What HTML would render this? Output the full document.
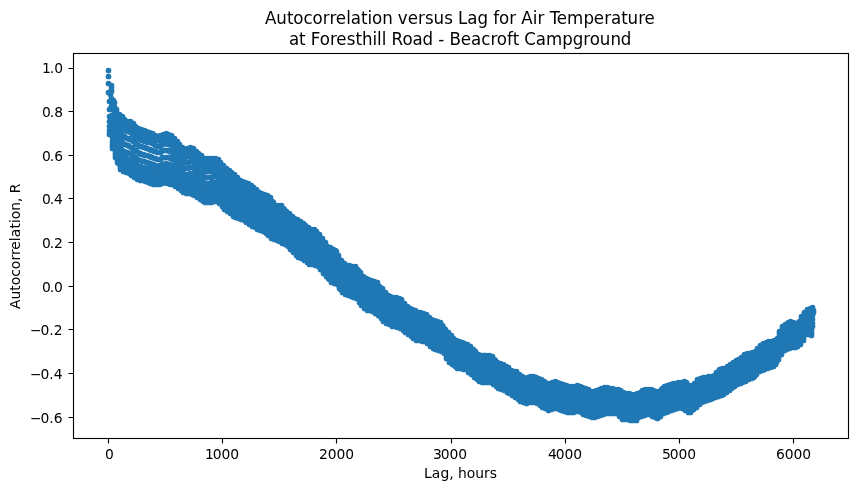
<!DOCTYPE html>
<html lang="en">
<head>
<meta charset="utf-8">
<title>Autocorrelation versus Lag for Air Temperature</title>
<style>
html,body{margin:0;padding:0;background:#fff}
svg{display:block}
text{font-family:"DejaVu Sans","Liberation Sans",sans-serif;fill:#000;white-space:pre}
.tk{font-size:13.889px}
.tt{font-size:16.667px}
.ax{stroke:#000;stroke-width:1.111;fill:none}
</style>
</head>
<body>
<svg width="857" height="491" viewBox="0 0 857 491" role="img" aria-label="Autocorrelation versus Lag for Air Temperature at Foresthill Road - Beacroft Campground">
<rect width="857" height="491" fill="#fff"/>
<path d="M108.5 70.5h.01M108.5 76.5h.01M108.5 83.5h.01M108.5 92.5h.01M109.5 101.5h.01M109.5 109.5h.01M109.5 116.5h.01M109.5 121.5h.01M109.5 126.5h.01M109.5 130.5h.01M109.5 133.5h.01M109.5 134.5h.01M110.5 134.5h.01M110.5 133.5h.01M110.5 131.5h.01M110.5 127.5h.01M110.5 122.5h.01M110.5 116.5h.01M110.5 108.5h.01M110.5 101.5h.01M110.5 94.5h.01M111.5 89.5h.01M111.5 85.5h.01M111.5 87.5h.01M111.5 91.5h.01M111.5 98.5h.01M111.5 106.5h.01M111.5 115.5h.01M111.5 123.5h.01M112.5 130.5h.01M112.5 137.5h.01M112.5 141.5h.01M112.5 145.5h.01M112.5 147.5h.01M112.5 148.5h.01M112.5 144.5h.01M113.5 141.5h.01M113.5 136.5h.01M113.5 130.5h.01M113.5 123.5h.01M113.5 116.5h.01M113.5 109.5h.01M113.5 104.5h.01M113.5 101.5h.01M113.5 100.5h.01M114.5 102.5h.01M114.5 106.5h.01M114.5 112.5h.01M114.5 119.5h.01M114.5 127.5h.01M114.5 135.5h.01M114.5 141.5h.01M114.5 147.5h.01M115.5 151.5h.01M115.5 154.5h.01M115.5 156.5h.01M115.5 157.5h.01M115.5 155.5h.01M115.5 153.5h.01M115.5 149.5h.01M115.5 144.5h.01M116.5 138.5h.01M116.5 132.5h.01M116.5 125.5h.01M116.5 118.5h.01M116.5 113.5h.01M116.5 110.5h.01M116.5 109.5h.01M116.5 114.5h.01M117.5 120.5h.01M117.5 127.5h.01M117.5 134.5h.01M117.5 141.5h.01M117.5 148.5h.01M117.5 153.5h.01M117.5 157.5h.01M117.5 160.5h.01M117.5 162.5h.01M118.5 163.5h.01M118.5 162.5h.01M118.5 161.5h.01M118.5 159.5h.01M118.5 155.5h.01M118.5 150.5h.01M118.5 144.5h.01M118.5 138.5h.01M119.5 130.5h.01M119.5 124.5h.01M119.5 118.5h.01M119.5 115.5h.01M119.5 114.5h.01M119.5 119.5h.01M119.5 125.5h.01M119.5 132.5h.01M120.5 140.5h.01M120.5 147.5h.01M120.5 154.5h.01M120.5 160.5h.01M120.5 164.5h.01M120.5 167.5h.01M120.5 169.5h.01M121.5 168.5h.01M121.5 165.5h.01M121.5 161.5h.01M121.5 155.5h.01M121.5 149.5h.01M121.5 142.5h.01M121.5 134.5h.01M121.5 127.5h.01M121.5 121.5h.01M122.5 117.5h.01M122.5 116.5h.01M122.5 118.5h.01M122.5 122.5h.01M122.5 128.5h.01M122.5 135.5h.01M122.5 142.5h.01M122.5 150.5h.01M123.5 156.5h.01M123.5 162.5h.01M123.5 166.5h.01M123.5 169.5h.01M123.5 170.5h.01M123.5 171.5h.01M124.5 162.5h.01M124.5 157.5h.01M124.5 151.5h.01M124.5 144.5h.01M124.5 136.5h.01M124.5 129.5h.01M124.5 124.5h.01M124.5 120.5h.01M124.5 119.5h.01M125.5 121.5h.01M125.5 124.5h.01M125.5 130.5h.01M125.5 137.5h.01M125.5 144.5h.01M125.5 152.5h.01M125.5 158.5h.01M125.5 163.5h.01M125.5 167.5h.01M126.5 170.5h.01M126.5 171.5h.01M126.5 172.5h.01M126.5 167.5h.01M126.5 163.5h.01M126.5 158.5h.01M127.5 152.5h.01M127.5 145.5h.01M127.5 138.5h.01M127.5 131.5h.01M127.5 126.5h.01M127.5 122.5h.01M127.5 121.5h.01M128.5 131.5h.01M128.5 138.5h.01M128.5 145.5h.01M128.5 153.5h.01M128.5 159.5h.01M128.5 164.5h.01M128.5 168.5h.01M128.5 171.5h.01M128.5 172.5h.01M129.5 173.5h.01M129.5 172.5h.01M129.5 171.5h.01M129.5 168.5h.01M129.5 164.5h.01M129.5 159.5h.01M129.5 153.5h.01M129.5 146.5h.01M129.5 139.5h.01M130.5 132.5h.01M130.5 126.5h.01M130.5 123.5h.01M130.5 121.5h.01M130.5 139.5h.01M131.5 147.5h.01M131.5 154.5h.01M131.5 160.5h.01M131.5 166.5h.01M131.5 170.5h.01M131.5 172.5h.01M131.5 174.5h.01M131.5 175.5h.01M132.5 173.5h.01M132.5 170.5h.01M132.5 166.5h.01M132.5 161.5h.01M132.5 155.5h.01M132.5 148.5h.01M132.5 140.5h.01M132.5 134.5h.01M132.5 128.5h.01M133.5 124.5h.01M133.5 123.5h.01M133.5 125.5h.01M133.5 128.5h.01M133.5 134.5h.01M133.5 141.5h.01M133.5 149.5h.01M133.5 156.5h.01M133.5 163.5h.01M134.5 168.5h.01M134.5 172.5h.01M134.5 175.5h.01M134.5 176.5h.01M134.5 177.5h.01M135.5 169.5h.01M135.5 164.5h.01M135.5 157.5h.01M135.5 150.5h.01M135.5 143.5h.01M135.5 136.5h.01M135.5 131.5h.01M135.5 127.5h.01M135.5 126.5h.01M136.5 128.5h.01M136.5 131.5h.01M136.5 137.5h.01M136.5 144.5h.01M136.5 151.5h.01M136.5 158.5h.01M136.5 165.5h.01M136.5 170.5h.01M136.5 174.5h.01M137.5 176.5h.01M137.5 178.5h.01M137.5 179.5h.01M137.5 177.5h.01M137.5 174.5h.01M137.5 170.5h.01M137.5 165.5h.01M137.5 159.5h.01M138.5 152.5h.01M138.5 145.5h.01M138.5 138.5h.01M138.5 133.5h.01M138.5 129.5h.01M138.5 128.5h.01M138.5 130.5h.01M139.5 139.5h.01M139.5 146.5h.01M139.5 153.5h.01M139.5 160.5h.01M139.5 166.5h.01M139.5 171.5h.01M139.5 175.5h.01M139.5 177.5h.01M139.5 179.5h.01M140.5 180.5h.01M140.5 179.5h.01M140.5 178.5h.01M140.5 175.5h.01M140.5 171.5h.01M140.5 166.5h.01M140.5 160.5h.01M140.5 153.5h.01M140.5 146.5h.01M141.5 139.5h.01M141.5 134.5h.01M141.5 130.5h.01M141.5 129.5h.01M141.5 131.5h.01M141.5 140.5h.01M141.5 146.5h.01M141.5 154.5h.01M142.5 161.5h.01M142.5 167.5h.01M142.5 172.5h.01M142.5 176.5h.01M142.5 178.5h.01M142.5 180.5h.01M143.5 178.5h.01M143.5 176.5h.01M143.5 172.5h.01M143.5 167.5h.01M143.5 161.5h.01M143.5 154.5h.01M143.5 147.5h.01M143.5 140.5h.01M143.5 135.5h.01M144.5 131.5h.01M144.5 130.5h.01M144.5 135.5h.01M144.5 141.5h.01M144.5 147.5h.01M144.5 155.5h.01M144.5 161.5h.01M144.5 168.5h.01M145.5 173.5h.01M145.5 177.5h.01M145.5 179.5h.01M145.5 181.5h.01M146.5 168.5h.01M146.5 162.5h.01M146.5 155.5h.01M146.5 148.5h.01M146.5 141.5h.01M146.5 136.5h.01M146.5 132.5h.01M146.5 131.5h.01M147.5 136.5h.01M147.5 142.5h.01M147.5 148.5h.01M147.5 155.5h.01M147.5 162.5h.01M147.5 168.5h.01M147.5 174.5h.01M147.5 177.5h.01M148.5 180.5h.01M148.5 181.5h.01M148.5 182.5h.01M148.5 178.5h.01M148.5 174.5h.01M148.5 169.5h.01M148.5 163.5h.01M149.5 156.5h.01M149.5 149.5h.01M149.5 142.5h.01M149.5 137.5h.01M149.5 133.5h.01M149.5 132.5h.01M150.5 149.5h.01M150.5 156.5h.01M150.5 163.5h.01M150.5 169.5h.01M150.5 174.5h.01M150.5 178.5h.01M150.5 181.5h.01M150.5 182.5h.01M150.5 183.5h.01M151.5 182.5h.01M151.5 181.5h.01M151.5 178.5h.01M151.5 175.5h.01M151.5 170.5h.01M151.5 164.5h.01M151.5 157.5h.01M151.5 150.5h.01M152.5 143.5h.01M152.5 138.5h.01M152.5 134.5h.01M152.5 133.5h.01M152.5 150.5h.01M152.5 157.5h.01M153.5 164.5h.01M153.5 170.5h.01M153.5 175.5h.01M153.5 179.5h.01M153.5 182.5h.01M153.5 183.5h.01M153.5 184.5h.01M154.5 179.5h.01M154.5 176.5h.01M154.5 171.5h.01M154.5 165.5h.01M154.5 158.5h.01M154.5 151.5h.01M154.5 144.5h.01M154.5 139.5h.01M154.5 136.5h.01M155.5 135.5h.01M155.5 136.5h.01M155.5 139.5h.01M155.5 145.5h.01M155.5 151.5h.01M155.5 158.5h.01M155.5 165.5h.01M155.5 171.5h.01M156.5 176.5h.01M156.5 180.5h.01M156.5 182.5h.01M156.5 184.5h.01M156.5 183.5h.01M157.5 172.5h.01M157.5 166.5h.01M157.5 159.5h.01M157.5 152.5h.01M157.5 146.5h.01M157.5 140.5h.01M157.5 137.5h.01M157.5 136.5h.01M158.5 140.5h.01M158.5 146.5h.01M158.5 152.5h.01M158.5 159.5h.01M158.5 166.5h.01M158.5 172.5h.01M158.5 176.5h.01M158.5 180.5h.01M158.5 182.5h.01M159.5 184.5h.01M159.5 182.5h.01M159.5 180.5h.01M159.5 176.5h.01M159.5 171.5h.01M159.5 165.5h.01M160.5 159.5h.01M160.5 152.5h.01M160.5 145.5h.01M160.5 140.5h.01M160.5 136.5h.01M160.5 135.5h.01M161.5 151.5h.01M161.5 158.5h.01M161.5 165.5h.01M161.5 171.5h.01M161.5 175.5h.01M161.5 179.5h.01M161.5 181.5h.01M161.5 183.5h.01M162.5 183.5h.01M162.5 181.5h.01M162.5 179.5h.01M162.5 175.5h.01M162.5 170.5h.01M162.5 164.5h.01M162.5 157.5h.01M162.5 150.5h.01M162.5 144.5h.01M163.5 139.5h.01M163.5 135.5h.01M163.5 134.5h.01M163.5 138.5h.01M163.5 144.5h.01M163.5 150.5h.01M163.5 157.5h.01M164.5 164.5h.01M164.5 170.5h.01M164.5 174.5h.01M164.5 178.5h.01M164.5 180.5h.01M164.5 182.5h.01M165.5 178.5h.01M165.5 174.5h.01M165.5 169.5h.01M165.5 163.5h.01M165.5 157.5h.01M165.5 150.5h.01M165.5 143.5h.01M165.5 138.5h.01M165.5 135.5h.01M166.5 133.5h.01M166.5 134.5h.01M166.5 138.5h.01M166.5 143.5h.01M166.5 150.5h.01M166.5 157.5h.01M166.5 163.5h.01M166.5 169.5h.01M166.5 174.5h.01M167.5 178.5h.01M167.5 181.5h.01M167.5 182.5h.01M167.5 183.5h.01M167.5 175.5h.01M168.5 170.5h.01M168.5 164.5h.01M168.5 157.5h.01M168.5 150.5h.01M168.5 144.5h.01M168.5 139.5h.01M168.5 135.5h.01M168.5 134.5h.01M169.5 139.5h.01M169.5 144.5h.01M169.5 151.5h.01M169.5 157.5h.01M169.5 164.5h.01M169.5 170.5h.01M169.5 175.5h.01M169.5 179.5h.01M169.5 182.5h.01M170.5 183.5h.01M170.5 184.5h.01M170.5 182.5h.01M170.5 179.5h.01M170.5 175.5h.01M170.5 171.5h.01M170.5 165.5h.01M170.5 158.5h.01M171.5 151.5h.01M171.5 145.5h.01M171.5 140.5h.01M171.5 137.5h.01M171.5 135.5h.01M172.5 152.5h.01M172.5 159.5h.01M172.5 165.5h.01M172.5 171.5h.01M172.5 176.5h.01M172.5 180.5h.01M172.5 182.5h.01M172.5 184.5h.01M173.5 184.5h.01M173.5 183.5h.01M173.5 180.5h.01M173.5 176.5h.01M173.5 172.5h.01M173.5 166.5h.01M173.5 159.5h.01M173.5 153.5h.01M173.5 147.5h.01M174.5 142.5h.01M174.5 139.5h.01M174.5 138.5h.01M174.5 143.5h.01M174.5 148.5h.01M174.5 154.5h.01M174.5 160.5h.01M174.5 167.5h.01M175.5 172.5h.01M175.5 177.5h.01M175.5 181.5h.01M175.5 183.5h.01M175.5 185.5h.01M175.5 186.5h.01M175.5 184.5h.01M176.5 181.5h.01M176.5 178.5h.01M176.5 173.5h.01M176.5 168.5h.01M176.5 161.5h.01M176.5 155.5h.01M176.5 150.5h.01M176.5 145.5h.01M176.5 142.5h.01M177.5 141.5h.01M177.5 143.5h.01M177.5 146.5h.01M177.5 150.5h.01M177.5 156.5h.01M177.5 162.5h.01M177.5 169.5h.01M177.5 174.5h.01M177.5 179.5h.01M178.5 183.5h.01M178.5 185.5h.01M178.5 187.5h.01M178.5 188.5h.01M178.5 186.5h.01M178.5 180.5h.01M178.5 175.5h.01M179.5 170.5h.01M179.5 164.5h.01M179.5 158.5h.01M179.5 152.5h.01M179.5 148.5h.01M179.5 145.5h.01M179.5 144.5h.01M180.5 153.5h.01M180.5 159.5h.01M180.5 165.5h.01M180.5 171.5h.01M180.5 177.5h.01M180.5 182.5h.01M180.5 185.5h.01M180.5 188.5h.01M181.5 190.5h.01M181.5 189.5h.01M181.5 186.5h.01M181.5 182.5h.01M181.5 178.5h.01M181.5 172.5h.01M181.5 166.5h.01M182.5 160.5h.01M182.5 155.5h.01M182.5 150.5h.01M182.5 148.5h.01M182.5 147.5h.01M182.5 151.5h.01M182.5 161.5h.01M183.5 167.5h.01M183.5 173.5h.01M183.5 179.5h.01M183.5 184.5h.01M183.5 187.5h.01M183.5 190.5h.01M183.5 192.5h.01M184.5 190.5h.01M184.5 188.5h.01M184.5 184.5h.01M184.5 179.5h.01M184.5 174.5h.01M184.5 168.5h.01M184.5 162.5h.01M184.5 157.5h.01M185.5 152.5h.01M185.5 150.5h.01M185.5 149.5h.01M185.5 157.5h.01M185.5 162.5h.01M185.5 168.5h.01M185.5 174.5h.01M186.5 179.5h.01M186.5 184.5h.01M186.5 188.5h.01M186.5 191.5h.01M186.5 192.5h.01M186.5 193.5h.01M187.5 184.5h.01M187.5 179.5h.01M187.5 174.5h.01M187.5 168.5h.01M187.5 162.5h.01M187.5 156.5h.01M187.5 152.5h.01M187.5 149.5h.01M187.5 148.5h.01M188.5 149.5h.01M188.5 152.5h.01M188.5 156.5h.01M188.5 162.5h.01M188.5 167.5h.01M188.5 174.5h.01M188.5 179.5h.01M188.5 184.5h.01M189.5 188.5h.01M189.5 191.5h.01M189.5 193.5h.01M189.5 184.5h.01M189.5 179.5h.01M190.5 173.5h.01M190.5 167.5h.01M190.5 161.5h.01M190.5 156.5h.01M190.5 151.5h.01M190.5 148.5h.01M190.5 147.5h.01M191.5 155.5h.01M191.5 161.5h.01M191.5 167.5h.01M191.5 173.5h.01M191.5 179.5h.01M191.5 184.5h.01M191.5 188.5h.01M191.5 191.5h.01M191.5 193.5h.01M192.5 194.5h.01M192.5 193.5h.01M192.5 192.5h.01M192.5 189.5h.01M192.5 184.5h.01M192.5 179.5h.01M192.5 174.5h.01M192.5 167.5h.01M193.5 161.5h.01M193.5 156.5h.01M193.5 152.5h.01M193.5 149.5h.01M193.5 148.5h.01M193.5 162.5h.01M194.5 168.5h.01M194.5 174.5h.01M194.5 180.5h.01M194.5 185.5h.01M194.5 190.5h.01M194.5 193.5h.01M194.5 194.5h.01M194.5 195.5h.01M195.5 193.5h.01M195.5 190.5h.01M195.5 186.5h.01M195.5 181.5h.01M195.5 175.5h.01M195.5 169.5h.01M195.5 164.5h.01M195.5 158.5h.01M195.5 154.5h.01M196.5 151.5h.01M196.5 152.5h.01M196.5 155.5h.01M196.5 159.5h.01M196.5 164.5h.01M196.5 170.5h.01M196.5 177.5h.01M197.5 182.5h.01M197.5 187.5h.01M197.5 191.5h.01M197.5 194.5h.01M197.5 196.5h.01M197.5 197.5h.01M197.5 195.5h.01M197.5 192.5h.01M198.5 188.5h.01M198.5 183.5h.01M198.5 178.5h.01M198.5 172.5h.01M198.5 166.5h.01M198.5 161.5h.01M198.5 157.5h.01M198.5 154.5h.01M198.5 153.5h.01M199.5 154.5h.01M199.5 157.5h.01M199.5 161.5h.01M199.5 167.5h.01M199.5 173.5h.01M199.5 179.5h.01M199.5 184.5h.01M199.5 189.5h.01M199.5 193.5h.01M200.5 196.5h.01M200.5 198.5h.01M200.5 199.5h.01M200.5 197.5h.01M200.5 194.5h.01M200.5 190.5h.01M200.5 185.5h.01M201.5 180.5h.01M201.5 174.5h.01M201.5 168.5h.01M201.5 163.5h.01M201.5 159.5h.01M201.5 156.5h.01M201.5 155.5h.01M202.5 163.5h.01M202.5 169.5h.01M202.5 175.5h.01M202.5 181.5h.01M202.5 186.5h.01M202.5 191.5h.01M202.5 195.5h.01M202.5 198.5h.01M202.5 200.5h.01M203.5 201.5h.01M203.5 200.5h.01M203.5 199.5h.01M203.5 196.5h.01M203.5 192.5h.01M203.5 187.5h.01M203.5 182.5h.01M203.5 176.5h.01M203.5 170.5h.01M204.5 165.5h.01M204.5 161.5h.01M204.5 158.5h.01M204.5 159.5h.01M204.5 166.5h.01M204.5 171.5h.01M205.5 177.5h.01M205.5 183.5h.01M205.5 188.5h.01M205.5 193.5h.01M205.5 197.5h.01M205.5 200.5h.01M205.5 202.5h.01M206.5 200.5h.01M206.5 197.5h.01M206.5 193.5h.01M206.5 189.5h.01M206.5 183.5h.01M206.5 177.5h.01M206.5 171.5h.01M206.5 166.5h.01M206.5 162.5h.01M207.5 159.5h.01M207.5 158.5h.01M207.5 162.5h.01M207.5 166.5h.01M207.5 171.5h.01M207.5 177.5h.01M207.5 183.5h.01M207.5 189.5h.01M208.5 193.5h.01M208.5 197.5h.01M208.5 200.5h.01M208.5 202.5h.01M209.5 193.5h.01M209.5 188.5h.01M209.5 183.5h.01M209.5 177.5h.01M209.5 171.5h.01M209.5 166.5h.01M209.5 162.5h.01M209.5 159.5h.01M209.5 158.5h.01M210.5 159.5h.01M210.5 162.5h.01M210.5 166.5h.01M210.5 171.5h.01M210.5 177.5h.01M210.5 183.5h.01M210.5 188.5h.01M210.5 193.5h.01M210.5 197.5h.01M211.5 199.5h.01M211.5 201.5h.01M211.5 202.5h.01M211.5 197.5h.01M211.5 193.5h.01M211.5 188.5h.01M211.5 182.5h.01M212.5 177.5h.01M212.5 171.5h.01M212.5 166.5h.01M212.5 162.5h.01M212.5 159.5h.01M212.5 158.5h.01M213.5 171.5h.01M213.5 176.5h.01M213.5 182.5h.01M213.5 188.5h.01M213.5 192.5h.01M213.5 196.5h.01M213.5 199.5h.01M213.5 200.5h.01M214.5 201.5h.01M214.5 200.5h.01M214.5 199.5h.01M214.5 196.5h.01M214.5 192.5h.01M214.5 187.5h.01M214.5 182.5h.01M214.5 176.5h.01M214.5 171.5h.01M215.5 166.5h.01M215.5 162.5h.01M215.5 159.5h.01M215.5 158.5h.01M215.5 171.5h.01M215.5 176.5h.01M216.5 182.5h.01M216.5 188.5h.01M216.5 192.5h.01M216.5 196.5h.01M216.5 199.5h.01M216.5 201.5h.01M217.5 197.5h.01M217.5 193.5h.01M217.5 188.5h.01M217.5 183.5h.01M217.5 177.5h.01M217.5 172.5h.01M217.5 167.5h.01M217.5 163.5h.01M218.5 160.5h.01M218.5 159.5h.01M218.5 163.5h.01M218.5 167.5h.01M218.5 172.5h.01M218.5 178.5h.01M218.5 184.5h.01M218.5 189.5h.01M219.5 194.5h.01M219.5 198.5h.01M219.5 200.5h.01M219.5 202.5h.01M219.5 203.5h.01M219.5 201.5h.01M219.5 195.5h.01M220.5 190.5h.01M220.5 185.5h.01M220.5 179.5h.01M220.5 174.5h.01M220.5 169.5h.01M220.5 165.5h.01M220.5 163.5h.01M220.5 162.5h.01M221.5 166.5h.01M221.5 170.5h.01M221.5 175.5h.01M221.5 181.5h.01M221.5 186.5h.01M221.5 192.5h.01M221.5 196.5h.01M221.5 200.5h.01M222.5 203.5h.01M222.5 205.5h.01M222.5 206.5h.01M222.5 204.5h.01M222.5 201.5h.01M222.5 197.5h.01M222.5 193.5h.01M222.5 188.5h.01M223.5 182.5h.01M223.5 177.5h.01M223.5 172.5h.01M223.5 168.5h.01M223.5 166.5h.01M223.5 165.5h.01M223.5 169.5h.01M223.5 173.5h.01M224.5 178.5h.01M224.5 184.5h.01M224.5 189.5h.01M224.5 195.5h.01M224.5 200.5h.01M224.5 204.5h.01M224.5 206.5h.01M224.5 208.5h.01M224.5 209.5h.01M225.5 208.5h.01M225.5 207.5h.01M225.5 204.5h.01M225.5 201.5h.01M225.5 196.5h.01M225.5 191.5h.01M225.5 185.5h.01M225.5 180.5h.01M226.5 175.5h.01M226.5 171.5h.01M226.5 169.5h.01M226.5 168.5h.01M226.5 172.5h.01M226.5 176.5h.01M226.5 181.5h.01M226.5 186.5h.01M227.5 192.5h.01M227.5 197.5h.01M227.5 202.5h.01M227.5 206.5h.01M227.5 208.5h.01M227.5 210.5h.01M227.5 211.5h.01M227.5 209.5h.01M228.5 206.5h.01M228.5 202.5h.01M228.5 198.5h.01M228.5 193.5h.01M228.5 188.5h.01M228.5 182.5h.01M228.5 177.5h.01M228.5 174.5h.01M228.5 171.5h.01M229.5 170.5h.01M229.5 171.5h.01M229.5 174.5h.01M229.5 178.5h.01M229.5 183.5h.01M229.5 188.5h.01M229.5 194.5h.01M229.5 199.5h.01M230.5 204.5h.01M230.5 208.5h.01M230.5 210.5h.01M230.5 212.5h.01M230.5 213.5h.01M230.5 211.5h.01M230.5 205.5h.01M231.5 200.5h.01M231.5 195.5h.01M231.5 189.5h.01M231.5 184.5h.01M231.5 179.5h.01M231.5 175.5h.01M231.5 172.5h.01M231.5 173.5h.01M232.5 175.5h.01M232.5 179.5h.01M232.5 185.5h.01M232.5 190.5h.01M232.5 196.5h.01M232.5 202.5h.01M232.5 207.5h.01M232.5 210.5h.01M232.5 213.5h.01M233.5 215.5h.01M233.5 216.5h.01M233.5 214.5h.01M233.5 211.5h.01M233.5 207.5h.01M233.5 203.5h.01M233.5 197.5h.01M234.5 192.5h.01M234.5 186.5h.01M234.5 181.5h.01M234.5 177.5h.01M234.5 175.5h.01M234.5 174.5h.01M234.5 178.5h.01M234.5 182.5h.01M235.5 187.5h.01M235.5 192.5h.01M235.5 198.5h.01M235.5 203.5h.01M235.5 208.5h.01M235.5 212.5h.01M235.5 215.5h.01M235.5 216.5h.01M235.5 217.5h.01M236.5 216.5h.01M236.5 215.5h.01M236.5 212.5h.01M236.5 208.5h.01M236.5 204.5h.01M236.5 199.5h.01M236.5 194.5h.01M236.5 189.5h.01M236.5 184.5h.01M237.5 180.5h.01M237.5 178.5h.01M237.5 177.5h.01M237.5 181.5h.01M237.5 185.5h.01M237.5 189.5h.01M237.5 195.5h.01M238.5 200.5h.01M238.5 205.5h.01M238.5 209.5h.01M238.5 213.5h.01M238.5 216.5h.01M238.5 217.5h.01M238.5 218.5h.01M239.5 213.5h.01M239.5 210.5h.01M239.5 206.5h.01M239.5 201.5h.01M239.5 196.5h.01M239.5 191.5h.01M239.5 187.5h.01M239.5 183.5h.01M239.5 181.5h.01M240.5 180.5h.01M240.5 181.5h.01M240.5 183.5h.01M240.5 187.5h.01M240.5 191.5h.01M240.5 197.5h.01M240.5 202.5h.01M240.5 207.5h.01M240.5 211.5h.01M241.5 214.5h.01M241.5 217.5h.01M241.5 218.5h.01M241.5 219.5h.01M241.5 211.5h.01M242.5 207.5h.01M242.5 202.5h.01M242.5 197.5h.01M242.5 192.5h.01M242.5 188.5h.01M242.5 184.5h.01M242.5 182.5h.01M242.5 181.5h.01M243.5 184.5h.01M243.5 188.5h.01M243.5 193.5h.01M243.5 198.5h.01M243.5 203.5h.01M243.5 208.5h.01M243.5 212.5h.01M243.5 215.5h.01M243.5 218.5h.01M244.5 220.5h.01M244.5 218.5h.01M244.5 216.5h.01M244.5 212.5h.01M244.5 208.5h.01M244.5 203.5h.01M244.5 198.5h.01M245.5 193.5h.01M245.5 189.5h.01M245.5 185.5h.01M245.5 183.5h.01M245.5 182.5h.01M245.5 194.5h.01M246.5 199.5h.01M246.5 204.5h.01M246.5 209.5h.01M246.5 213.5h.01M246.5 217.5h.01M246.5 220.5h.01M246.5 221.5h.01M246.5 222.5h.01M247.5 221.5h.01M247.5 220.5h.01M247.5 217.5h.01M247.5 214.5h.01M247.5 210.5h.01M247.5 205.5h.01M247.5 200.5h.01M247.5 195.5h.01M247.5 190.5h.01M248.5 186.5h.01M248.5 184.5h.01M248.5 183.5h.01M248.5 190.5h.01M248.5 195.5h.01M248.5 200.5h.01M248.5 206.5h.01M249.5 211.5h.01M249.5 215.5h.01M249.5 219.5h.01M249.5 221.5h.01M249.5 223.5h.01M249.5 224.5h.01M249.5 222.5h.01M250.5 216.5h.01M250.5 212.5h.01M250.5 207.5h.01M250.5 201.5h.01M250.5 196.5h.01M250.5 192.5h.01M250.5 188.5h.01M250.5 186.5h.01M251.5 185.5h.01M251.5 186.5h.01M251.5 188.5h.01M251.5 192.5h.01M251.5 197.5h.01M251.5 202.5h.01M251.5 208.5h.01M251.5 213.5h.01M251.5 217.5h.01M252.5 221.5h.01M252.5 223.5h.01M252.5 225.5h.01M252.5 226.5h.01M252.5 224.5h.01M252.5 218.5h.01M252.5 213.5h.01M253.5 209.5h.01M253.5 203.5h.01M253.5 198.5h.01M253.5 194.5h.01M253.5 190.5h.01M253.5 188.5h.01M253.5 187.5h.01M254.5 194.5h.01M254.5 199.5h.01M254.5 204.5h.01M254.5 210.5h.01M254.5 215.5h.01M254.5 219.5h.01M254.5 223.5h.01M254.5 225.5h.01M255.5 227.5h.01M255.5 226.5h.01M255.5 223.5h.01M255.5 220.5h.01M255.5 215.5h.01M255.5 211.5h.01M255.5 205.5h.01M256.5 200.5h.01M256.5 196.5h.01M256.5 192.5h.01M256.5 190.5h.01M256.5 189.5h.01M256.5 193.5h.01M256.5 201.5h.01M257.5 206.5h.01M257.5 212.5h.01M257.5 217.5h.01M257.5 221.5h.01M257.5 224.5h.01M257.5 227.5h.01M257.5 229.5h.01M258.5 227.5h.01M258.5 225.5h.01M258.5 221.5h.01M258.5 217.5h.01M258.5 213.5h.01M258.5 208.5h.01M258.5 203.5h.01M258.5 198.5h.01M259.5 195.5h.01M259.5 192.5h.01M259.5 193.5h.01M259.5 199.5h.01M259.5 203.5h.01M259.5 208.5h.01M259.5 213.5h.01M260.5 218.5h.01M260.5 222.5h.01M260.5 226.5h.01M260.5 228.5h.01M260.5 230.5h.01M261.5 223.5h.01M261.5 219.5h.01M261.5 214.5h.01M261.5 209.5h.01M261.5 204.5h.01M261.5 200.5h.01M261.5 196.5h.01M261.5 194.5h.01M261.5 193.5h.01M262.5 194.5h.01M262.5 196.5h.01M262.5 200.5h.01M262.5 204.5h.01M262.5 209.5h.01M262.5 214.5h.01M262.5 219.5h.01M262.5 223.5h.01M263.5 227.5h.01M263.5 229.5h.01M263.5 231.5h.01M263.5 224.5h.01M263.5 220.5h.01M264.5 215.5h.01M264.5 210.5h.01M264.5 205.5h.01M264.5 201.5h.01M264.5 197.5h.01M264.5 195.5h.01M264.5 194.5h.01M265.5 201.5h.01M265.5 205.5h.01M265.5 211.5h.01M265.5 216.5h.01M265.5 221.5h.01M265.5 225.5h.01M265.5 228.5h.01M265.5 231.5h.01M265.5 232.5h.01M266.5 233.5h.01M266.5 231.5h.01M266.5 229.5h.01M266.5 225.5h.01M266.5 221.5h.01M266.5 217.5h.01M266.5 211.5h.01M267.5 206.5h.01M267.5 202.5h.01M267.5 198.5h.01M267.5 196.5h.01M267.5 195.5h.01M267.5 199.5h.01M267.5 207.5h.01M268.5 212.5h.01M268.5 218.5h.01M268.5 223.5h.01M268.5 227.5h.01M268.5 231.5h.01M268.5 233.5h.01M268.5 235.5h.01M269.5 234.5h.01M269.5 231.5h.01M269.5 228.5h.01M269.5 223.5h.01M269.5 219.5h.01M269.5 213.5h.01M269.5 208.5h.01M269.5 204.5h.01M269.5 200.5h.01M270.5 198.5h.01M270.5 197.5h.01M270.5 200.5h.01M270.5 204.5h.01M270.5 209.5h.01M270.5 214.5h.01M270.5 220.5h.01M271.5 225.5h.01M271.5 229.5h.01M271.5 233.5h.01M271.5 235.5h.01M271.5 237.5h.01M271.5 238.5h.01M271.5 236.5h.01M272.5 230.5h.01M272.5 226.5h.01M272.5 221.5h.01M272.5 216.5h.01M272.5 211.5h.01M272.5 207.5h.01M272.5 203.5h.01M272.5 201.5h.01M273.5 202.5h.01M273.5 204.5h.01M273.5 208.5h.01M273.5 212.5h.01M273.5 217.5h.01M273.5 222.5h.01M273.5 227.5h.01M273.5 231.5h.01M273.5 235.5h.01M274.5 237.5h.01M274.5 238.5h.01M274.5 239.5h.01M274.5 235.5h.01M274.5 232.5h.01M274.5 228.5h.01M275.5 224.5h.01M275.5 219.5h.01M275.5 215.5h.01M275.5 211.5h.01M275.5 207.5h.01M275.5 205.5h.01M275.5 206.5h.01M275.5 208.5h.01M276.5 211.5h.01M276.5 215.5h.01M276.5 220.5h.01M276.5 224.5h.01M276.5 229.5h.01M276.5 233.5h.01M276.5 236.5h.01M276.5 238.5h.01M276.5 239.5h.01M277.5 240.5h.01M277.5 239.5h.01M277.5 238.5h.01M277.5 236.5h.01M277.5 233.5h.01M277.5 229.5h.01M277.5 225.5h.01M277.5 220.5h.01M277.5 216.5h.01M278.5 212.5h.01M278.5 208.5h.01M278.5 206.5h.01M278.5 205.5h.01M278.5 216.5h.01M278.5 220.5h.01M279.5 225.5h.01M279.5 229.5h.01M279.5 233.5h.01M279.5 236.5h.01M279.5 239.5h.01M279.5 240.5h.01M279.5 241.5h.01M280.5 239.5h.01M280.5 237.5h.01M280.5 234.5h.01M280.5 230.5h.01M280.5 225.5h.01M280.5 221.5h.01M280.5 216.5h.01M280.5 212.5h.01M280.5 208.5h.01M281.5 206.5h.01M281.5 205.5h.01M281.5 208.5h.01M281.5 212.5h.01M281.5 216.5h.01M281.5 221.5h.01M281.5 226.5h.01M281.5 231.5h.01M282.5 235.5h.01M282.5 238.5h.01M282.5 241.5h.01M282.5 242.5h.01M282.5 243.5h.01M282.5 239.5h.01M283.5 232.5h.01M283.5 227.5h.01M283.5 222.5h.01M283.5 218.5h.01M283.5 214.5h.01M283.5 210.5h.01M283.5 208.5h.01M284.5 209.5h.01M284.5 211.5h.01M284.5 214.5h.01M284.5 219.5h.01M284.5 223.5h.01M284.5 228.5h.01M284.5 233.5h.01M284.5 237.5h.01M284.5 240.5h.01M285.5 242.5h.01M285.5 244.5h.01M285.5 240.5h.01M285.5 237.5h.01M285.5 233.5h.01M285.5 229.5h.01M286.5 225.5h.01M286.5 220.5h.01M286.5 216.5h.01M286.5 213.5h.01M286.5 211.5h.01M286.5 214.5h.01M286.5 217.5h.01M287.5 221.5h.01M287.5 226.5h.01M287.5 230.5h.01M287.5 235.5h.01M287.5 238.5h.01M287.5 241.5h.01M287.5 244.5h.01M287.5 245.5h.01M288.5 246.5h.01M288.5 245.5h.01M288.5 244.5h.01M288.5 242.5h.01M288.5 239.5h.01M288.5 235.5h.01M288.5 231.5h.01M288.5 227.5h.01M288.5 223.5h.01M289.5 219.5h.01M289.5 216.5h.01M289.5 214.5h.01M289.5 213.5h.01M289.5 224.5h.01M289.5 228.5h.01M290.5 233.5h.01M290.5 237.5h.01M290.5 241.5h.01M290.5 244.5h.01M290.5 246.5h.01M290.5 248.5h.01M290.5 249.5h.01M290.5 247.5h.01M291.5 245.5h.01M291.5 242.5h.01M291.5 238.5h.01M291.5 234.5h.01M291.5 230.5h.01M291.5 225.5h.01M291.5 221.5h.01M291.5 218.5h.01M292.5 216.5h.01M292.5 219.5h.01M292.5 222.5h.01M292.5 226.5h.01M292.5 231.5h.01M292.5 236.5h.01M292.5 240.5h.01M293.5 244.5h.01M293.5 247.5h.01M293.5 250.5h.01M293.5 251.5h.01M293.5 252.5h.01M293.5 248.5h.01M293.5 245.5h.01M294.5 241.5h.01M294.5 237.5h.01M294.5 232.5h.01M294.5 228.5h.01M294.5 224.5h.01M294.5 220.5h.01M294.5 218.5h.01M295.5 221.5h.01M295.5 224.5h.01M295.5 229.5h.01M295.5 233.5h.01M295.5 238.5h.01M295.5 243.5h.01M295.5 247.5h.01M295.5 250.5h.01M296.5 253.5h.01M296.5 254.5h.01M296.5 255.5h.01M296.5 251.5h.01M296.5 248.5h.01M296.5 244.5h.01M296.5 239.5h.01M297.5 234.5h.01M297.5 230.5h.01M297.5 225.5h.01M297.5 222.5h.01M297.5 220.5h.01M297.5 219.5h.01M297.5 226.5h.01M298.5 230.5h.01M298.5 235.5h.01M298.5 240.5h.01M298.5 245.5h.01M298.5 249.5h.01M298.5 252.5h.01M298.5 255.5h.01M298.5 256.5h.01M298.5 257.5h.01M299.5 256.5h.01M299.5 255.5h.01M299.5 252.5h.01M299.5 249.5h.01M299.5 245.5h.01M299.5 241.5h.01M299.5 236.5h.01M299.5 231.5h.01M300.5 227.5h.01M300.5 224.5h.01M300.5 221.5h.01M300.5 222.5h.01M300.5 232.5h.01M300.5 237.5h.01M301.5 242.5h.01M301.5 246.5h.01M301.5 250.5h.01M301.5 253.5h.01M301.5 256.5h.01M301.5 257.5h.01M301.5 258.5h.01M302.5 254.5h.01M302.5 251.5h.01M302.5 247.5h.01M302.5 242.5h.01M302.5 238.5h.01M302.5 233.5h.01M302.5 229.5h.01M302.5 226.5h.01M302.5 224.5h.01M303.5 223.5h.01M303.5 224.5h.01M303.5 226.5h.01M303.5 229.5h.01M303.5 234.5h.01M303.5 239.5h.01M303.5 243.5h.01M303.5 248.5h.01M304.5 252.5h.01M304.5 255.5h.01M304.5 258.5h.01M304.5 259.5h.01M304.5 260.5h.01M304.5 256.5h.01M304.5 253.5h.01M305.5 249.5h.01M305.5 245.5h.01M305.5 240.5h.01M305.5 235.5h.01M305.5 231.5h.01M305.5 228.5h.01M305.5 226.5h.01M305.5 225.5h.01M306.5 228.5h.01M306.5 232.5h.01M306.5 236.5h.01M306.5 241.5h.01M306.5 246.5h.01M306.5 250.5h.01M306.5 254.5h.01M306.5 258.5h.01M306.5 260.5h.01M307.5 261.5h.01M307.5 262.5h.01M307.5 260.5h.01M307.5 258.5h.01M307.5 255.5h.01M307.5 251.5h.01M307.5 247.5h.01M308.5 242.5h.01M308.5 238.5h.01M308.5 233.5h.01M308.5 230.5h.01M308.5 228.5h.01M308.5 227.5h.01M308.5 234.5h.01M309.5 238.5h.01M309.5 243.5h.01M309.5 248.5h.01M309.5 252.5h.01M309.5 256.5h.01M309.5 259.5h.01M309.5 262.5h.01M309.5 263.5h.01M309.5 264.5h.01M310.5 263.5h.01M310.5 262.5h.01M310.5 260.5h.01M310.5 257.5h.01M310.5 253.5h.01M310.5 248.5h.01M310.5 244.5h.01M310.5 239.5h.01M310.5 235.5h.01M311.5 231.5h.01M311.5 229.5h.01M311.5 232.5h.01M311.5 235.5h.01M311.5 239.5h.01M311.5 244.5h.01M312.5 249.5h.01M312.5 253.5h.01M312.5 257.5h.01M312.5 260.5h.01M312.5 262.5h.01M312.5 264.5h.01M312.5 263.5h.01M313.5 260.5h.01M313.5 257.5h.01M313.5 253.5h.01M313.5 249.5h.01M313.5 244.5h.01M313.5 240.5h.01M313.5 236.5h.01M313.5 232.5h.01M313.5 230.5h.01M314.5 229.5h.01M314.5 230.5h.01M314.5 232.5h.01M314.5 236.5h.01M314.5 240.5h.01M314.5 245.5h.01M314.5 249.5h.01M314.5 254.5h.01M314.5 258.5h.01M315.5 261.5h.01M315.5 263.5h.01M315.5 264.5h.01M315.5 265.5h.01M315.5 258.5h.01M315.5 254.5h.01M316.5 250.5h.01M316.5 245.5h.01M316.5 241.5h.01M316.5 237.5h.01M316.5 233.5h.01M316.5 231.5h.01M317.5 234.5h.01M317.5 237.5h.01M317.5 241.5h.01M317.5 246.5h.01M317.5 250.5h.01M317.5 255.5h.01M317.5 259.5h.01M317.5 262.5h.01M317.5 264.5h.01M318.5 265.5h.01M318.5 266.5h.01M318.5 264.5h.01M318.5 262.5h.01M318.5 259.5h.01M318.5 256.5h.01M318.5 252.5h.01M318.5 247.5h.01M319.5 243.5h.01M319.5 239.5h.01M319.5 236.5h.01M319.5 234.5h.01M319.5 235.5h.01M319.5 237.5h.01M319.5 240.5h.01M319.5 244.5h.01M320.5 249.5h.01M320.5 254.5h.01M320.5 258.5h.01M320.5 262.5h.01M320.5 265.5h.01M320.5 267.5h.01M320.5 269.5h.01M321.5 269.5h.01M321.5 268.5h.01M321.5 266.5h.01M321.5 263.5h.01M321.5 259.5h.01M321.5 255.5h.01M321.5 251.5h.01M321.5 247.5h.01M321.5 243.5h.01M322.5 240.5h.01M322.5 238.5h.01M322.5 239.5h.01M322.5 241.5h.01M322.5 244.5h.01M322.5 248.5h.01M322.5 253.5h.01M322.5 257.5h.01M323.5 262.5h.01M323.5 266.5h.01M323.5 269.5h.01M323.5 271.5h.01M323.5 272.5h.01M323.5 273.5h.01M323.5 270.5h.01M324.5 267.5h.01M324.5 263.5h.01M324.5 259.5h.01M324.5 255.5h.01M324.5 251.5h.01M324.5 247.5h.01M324.5 244.5h.01M324.5 243.5h.01M325.5 242.5h.01M325.5 243.5h.01M325.5 245.5h.01M325.5 248.5h.01M325.5 252.5h.01M325.5 257.5h.01M325.5 261.5h.01M325.5 265.5h.01M325.5 269.5h.01M326.5 272.5h.01M326.5 274.5h.01M326.5 276.5h.01M326.5 275.5h.01M326.5 273.5h.01M326.5 270.5h.01M326.5 267.5h.01M327.5 263.5h.01M327.5 259.5h.01M327.5 255.5h.01M327.5 251.5h.01M327.5 248.5h.01M327.5 246.5h.01M328.5 252.5h.01M328.5 256.5h.01M328.5 260.5h.01M328.5 264.5h.01M328.5 269.5h.01M328.5 272.5h.01M328.5 275.5h.01M328.5 278.5h.01M329.5 279.5h.01M329.5 278.5h.01M329.5 276.5h.01M329.5 273.5h.01M329.5 270.5h.01M329.5 266.5h.01M329.5 261.5h.01M330.5 257.5h.01M330.5 253.5h.01M330.5 250.5h.01M330.5 248.5h.01M330.5 247.5h.01M330.5 254.5h.01M330.5 258.5h.01M331.5 262.5h.01M331.5 267.5h.01M331.5 271.5h.01M331.5 275.5h.01M331.5 278.5h.01M331.5 280.5h.01M331.5 281.5h.01M331.5 282.5h.01M332.5 280.5h.01M332.5 278.5h.01M332.5 275.5h.01M332.5 271.5h.01M332.5 267.5h.01M332.5 263.5h.01M332.5 258.5h.01M332.5 254.5h.01M333.5 251.5h.01M333.5 249.5h.01M333.5 252.5h.01M333.5 255.5h.01M333.5 259.5h.01M333.5 263.5h.01M333.5 268.5h.01M334.5 272.5h.01M334.5 276.5h.01M334.5 279.5h.01M334.5 281.5h.01M334.5 282.5h.01M334.5 283.5h.01M335.5 276.5h.01M335.5 272.5h.01M335.5 268.5h.01M335.5 264.5h.01M335.5 260.5h.01M335.5 256.5h.01M335.5 253.5h.01M335.5 251.5h.01M335.5 250.5h.01M336.5 251.5h.01M336.5 253.5h.01M336.5 257.5h.01M336.5 261.5h.01M336.5 265.5h.01M336.5 269.5h.01M336.5 274.5h.01M336.5 277.5h.01M337.5 280.5h.01M337.5 282.5h.01M337.5 284.5h.01M337.5 283.5h.01M337.5 281.5h.01M337.5 278.5h.01M337.5 275.5h.01M338.5 271.5h.01M338.5 267.5h.01M338.5 263.5h.01M338.5 260.5h.01M338.5 257.5h.01M338.5 255.5h.01M338.5 256.5h.01M338.5 258.5h.01M339.5 261.5h.01M339.5 265.5h.01M339.5 269.5h.01M339.5 274.5h.01M339.5 278.5h.01M339.5 281.5h.01M339.5 284.5h.01M339.5 287.5h.01M339.5 288.5h.01M340.5 289.5h.01M340.5 288.5h.01M340.5 287.5h.01M340.5 286.5h.01M340.5 283.5h.01M340.5 280.5h.01M340.5 276.5h.01M340.5 272.5h.01M341.5 268.5h.01M341.5 265.5h.01M341.5 262.5h.01M341.5 261.5h.01M341.5 260.5h.01M341.5 263.5h.01M341.5 266.5h.01M341.5 270.5h.01M342.5 274.5h.01M342.5 278.5h.01M342.5 282.5h.01M342.5 286.5h.01M342.5 288.5h.01M342.5 290.5h.01M342.5 292.5h.01M343.5 291.5h.01M343.5 289.5h.01M343.5 286.5h.01M343.5 283.5h.01M343.5 280.5h.01M343.5 276.5h.01M343.5 272.5h.01M343.5 268.5h.01M343.5 266.5h.01M344.5 264.5h.01M344.5 263.5h.01M344.5 266.5h.01M344.5 269.5h.01M344.5 272.5h.01M344.5 276.5h.01M344.5 280.5h.01M345.5 284.5h.01M345.5 287.5h.01M345.5 290.5h.01M345.5 292.5h.01M345.5 293.5h.01M345.5 294.5h.01M346.5 288.5h.01M346.5 285.5h.01M346.5 281.5h.01M346.5 277.5h.01M346.5 273.5h.01M346.5 270.5h.01M346.5 267.5h.01M346.5 265.5h.01M347.5 265.5h.01M347.5 267.5h.01M347.5 270.5h.01M347.5 273.5h.01M347.5 277.5h.01M347.5 281.5h.01M347.5 285.5h.01M347.5 288.5h.01M347.5 291.5h.01M348.5 293.5h.01M348.5 294.5h.01M348.5 295.5h.01M348.5 291.5h.01M348.5 289.5h.01M348.5 286.5h.01M348.5 282.5h.01M349.5 278.5h.01M349.5 274.5h.01M349.5 271.5h.01M349.5 268.5h.01M349.5 266.5h.01M349.5 265.5h.01M350.5 271.5h.01M350.5 274.5h.01M350.5 278.5h.01M350.5 282.5h.01M350.5 286.5h.01M350.5 289.5h.01M350.5 292.5h.01M350.5 294.5h.01M350.5 295.5h.01M351.5 296.5h.01M351.5 295.5h.01M351.5 294.5h.01M351.5 292.5h.01M351.5 290.5h.01M351.5 286.5h.01M351.5 283.5h.01M351.5 279.5h.01M351.5 275.5h.01M352.5 271.5h.01M352.5 268.5h.01M352.5 266.5h.01M352.5 275.5h.01M352.5 279.5h.01M353.5 283.5h.01M353.5 287.5h.01M353.5 290.5h.01M353.5 293.5h.01M353.5 295.5h.01M353.5 296.5h.01M353.5 297.5h.01M354.5 295.5h.01M354.5 293.5h.01M354.5 291.5h.01M354.5 287.5h.01M354.5 283.5h.01M354.5 279.5h.01M354.5 275.5h.01M354.5 272.5h.01M354.5 269.5h.01M355.5 267.5h.01M355.5 266.5h.01M355.5 269.5h.01M355.5 272.5h.01M355.5 276.5h.01M355.5 280.5h.01M355.5 284.5h.01M355.5 288.5h.01M356.5 292.5h.01M356.5 294.5h.01M356.5 297.5h.01M356.5 298.5h.01M356.5 295.5h.01M357.5 289.5h.01M357.5 285.5h.01M357.5 281.5h.01M357.5 277.5h.01M357.5 274.5h.01M357.5 271.5h.01M357.5 269.5h.01M358.5 270.5h.01M358.5 272.5h.01M358.5 275.5h.01M358.5 278.5h.01M358.5 283.5h.01M358.5 287.5h.01M358.5 291.5h.01M358.5 295.5h.01M358.5 297.5h.01M359.5 300.5h.01M359.5 301.5h.01M359.5 302.5h.01M359.5 298.5h.01M359.5 296.5h.01M359.5 293.5h.01M359.5 289.5h.01M360.5 285.5h.01M360.5 281.5h.01M360.5 277.5h.01M360.5 275.5h.01M360.5 273.5h.01M360.5 272.5h.01M360.5 278.5h.01M361.5 282.5h.01M361.5 286.5h.01M361.5 291.5h.01M361.5 295.5h.01M361.5 298.5h.01M361.5 301.5h.01M361.5 303.5h.01M361.5 305.5h.01M362.5 305.5h.01M362.5 304.5h.01M362.5 302.5h.01M362.5 300.5h.01M362.5 296.5h.01M362.5 293.5h.01M362.5 289.5h.01M362.5 285.5h.01M363.5 281.5h.01M363.5 278.5h.01M363.5 276.5h.01M363.5 277.5h.01M363.5 279.5h.01M363.5 282.5h.01M363.5 286.5h.01M363.5 290.5h.01M364.5 294.5h.01M364.5 298.5h.01M364.5 302.5h.01M364.5 304.5h.01M364.5 307.5h.01M364.5 308.5h.01M365.5 305.5h.01M365.5 302.5h.01M365.5 299.5h.01M365.5 295.5h.01M365.5 291.5h.01M365.5 287.5h.01M365.5 283.5h.01M365.5 280.5h.01M366.5 278.5h.01M366.5 279.5h.01M366.5 280.5h.01M366.5 284.5h.01M366.5 287.5h.01M366.5 291.5h.01M366.5 296.5h.01M366.5 300.5h.01M367.5 303.5h.01M367.5 306.5h.01M367.5 308.5h.01M367.5 309.5h.01M367.5 310.5h.01M368.5 300.5h.01M368.5 296.5h.01M368.5 292.5h.01M368.5 288.5h.01M368.5 284.5h.01M368.5 281.5h.01M368.5 279.5h.01M368.5 280.5h.01M369.5 282.5h.01M369.5 285.5h.01M369.5 288.5h.01M369.5 292.5h.01M369.5 297.5h.01M369.5 301.5h.01M369.5 304.5h.01M369.5 307.5h.01M370.5 309.5h.01M370.5 310.5h.01M370.5 307.5h.01M370.5 304.5h.01M370.5 301.5h.01M370.5 297.5h.01M371.5 293.5h.01M371.5 289.5h.01M371.5 285.5h.01M371.5 282.5h.01M371.5 280.5h.01M371.5 281.5h.01M372.5 289.5h.01M372.5 293.5h.01M372.5 297.5h.01M372.5 301.5h.01M372.5 305.5h.01M372.5 308.5h.01M372.5 310.5h.01M372.5 311.5h.01M373.5 311.5h.01M373.5 310.5h.01M373.5 308.5h.01M373.5 305.5h.01M373.5 302.5h.01M373.5 298.5h.01M373.5 294.5h.01M373.5 290.5h.01M374.5 286.5h.01M374.5 283.5h.01M374.5 281.5h.01M374.5 290.5h.01M374.5 294.5h.01M375.5 298.5h.01M375.5 302.5h.01M375.5 306.5h.01M375.5 309.5h.01M375.5 311.5h.01M375.5 312.5h.01M375.5 313.5h.01M376.5 309.5h.01M376.5 306.5h.01M376.5 303.5h.01M376.5 299.5h.01M376.5 295.5h.01M376.5 291.5h.01M376.5 288.5h.01M376.5 285.5h.01M376.5 283.5h.01M377.5 282.5h.01M377.5 283.5h.01M377.5 285.5h.01M377.5 288.5h.01M377.5 292.5h.01M377.5 296.5h.01M377.5 301.5h.01M377.5 305.5h.01M378.5 308.5h.01M378.5 311.5h.01M378.5 313.5h.01M378.5 315.5h.01M378.5 314.5h.01M378.5 312.5h.01M378.5 309.5h.01M379.5 306.5h.01M379.5 302.5h.01M379.5 298.5h.01M379.5 294.5h.01M379.5 291.5h.01M379.5 288.5h.01M379.5 286.5h.01M380.5 288.5h.01M380.5 291.5h.01M380.5 295.5h.01M380.5 299.5h.01M380.5 304.5h.01M380.5 308.5h.01M380.5 311.5h.01M380.5 314.5h.01M380.5 316.5h.01M381.5 318.5h.01M381.5 317.5h.01M381.5 315.5h.01M381.5 312.5h.01M381.5 309.5h.01M381.5 305.5h.01M381.5 301.5h.01M382.5 297.5h.01M382.5 293.5h.01M382.5 291.5h.01M382.5 289.5h.01M382.5 288.5h.01M382.5 294.5h.01M383.5 298.5h.01M383.5 302.5h.01M383.5 306.5h.01M383.5 310.5h.01M383.5 314.5h.01M383.5 317.5h.01M383.5 319.5h.01M383.5 320.5h.01M383.5 321.5h.01M384.5 320.5h.01M384.5 319.5h.01M384.5 317.5h.01M384.5 315.5h.01M384.5 312.5h.01M384.5 308.5h.01M384.5 304.5h.01M384.5 300.5h.01M384.5 297.5h.01M385.5 294.5h.01M385.5 293.5h.01M385.5 292.5h.01M385.5 295.5h.01M385.5 298.5h.01M385.5 301.5h.01M385.5 305.5h.01M385.5 309.5h.01M386.5 313.5h.01M386.5 316.5h.01M386.5 319.5h.01M386.5 321.5h.01M386.5 322.5h.01M386.5 323.5h.01M387.5 319.5h.01M387.5 317.5h.01M387.5 314.5h.01M387.5 310.5h.01M387.5 307.5h.01M387.5 303.5h.01M387.5 299.5h.01M387.5 297.5h.01M387.5 295.5h.01M388.5 295.5h.01M388.5 297.5h.01M388.5 300.5h.01M388.5 303.5h.01M388.5 307.5h.01M388.5 311.5h.01M388.5 315.5h.01M388.5 318.5h.01M389.5 321.5h.01M389.5 323.5h.01M389.5 324.5h.01M389.5 319.5h.01M389.5 315.5h.01M390.5 312.5h.01M390.5 308.5h.01M390.5 304.5h.01M390.5 301.5h.01M390.5 298.5h.01M390.5 296.5h.01M391.5 298.5h.01M391.5 301.5h.01M391.5 304.5h.01M391.5 308.5h.01M391.5 312.5h.01M391.5 316.5h.01M391.5 319.5h.01M391.5 322.5h.01M391.5 324.5h.01M392.5 325.5h.01M392.5 326.5h.01M392.5 324.5h.01M392.5 322.5h.01M392.5 320.5h.01M392.5 317.5h.01M392.5 313.5h.01M392.5 309.5h.01M393.5 305.5h.01M393.5 302.5h.01M393.5 299.5h.01M393.5 297.5h.01M394.5 309.5h.01M394.5 313.5h.01M394.5 317.5h.01M394.5 320.5h.01M394.5 323.5h.01M394.5 325.5h.01M394.5 326.5h.01M395.5 326.5h.01M395.5 325.5h.01M395.5 323.5h.01M395.5 320.5h.01M395.5 317.5h.01M395.5 314.5h.01M395.5 310.5h.01M395.5 306.5h.01M395.5 302.5h.01M396.5 299.5h.01M396.5 298.5h.01M396.5 297.5h.01M396.5 300.5h.01M396.5 302.5h.01M396.5 306.5h.01M396.5 310.5h.01M396.5 314.5h.01M397.5 318.5h.01M397.5 321.5h.01M397.5 324.5h.01M397.5 326.5h.01M397.5 327.5h.01M398.5 321.5h.01M398.5 318.5h.01M398.5 314.5h.01M398.5 310.5h.01M398.5 306.5h.01M398.5 303.5h.01M398.5 300.5h.01M398.5 298.5h.01M399.5 298.5h.01M399.5 300.5h.01M399.5 303.5h.01M399.5 307.5h.01M399.5 311.5h.01M399.5 315.5h.01M399.5 318.5h.01M399.5 322.5h.01M400.5 324.5h.01M400.5 326.5h.01M400.5 328.5h.01M400.5 327.5h.01M400.5 325.5h.01M400.5 322.5h.01M400.5 319.5h.01M401.5 315.5h.01M401.5 311.5h.01M401.5 308.5h.01M401.5 304.5h.01M401.5 301.5h.01M401.5 300.5h.01M401.5 299.5h.01M401.5 302.5h.01M402.5 305.5h.01M402.5 308.5h.01M402.5 312.5h.01M402.5 316.5h.01M402.5 320.5h.01M402.5 323.5h.01M402.5 326.5h.01M402.5 328.5h.01M403.5 329.5h.01M403.5 330.5h.01M403.5 328.5h.01M403.5 327.5h.01M403.5 324.5h.01M403.5 321.5h.01M403.5 318.5h.01M403.5 314.5h.01M404.5 310.5h.01M404.5 307.5h.01M404.5 305.5h.01M404.5 303.5h.01M404.5 308.5h.01M404.5 311.5h.01M405.5 315.5h.01M405.5 319.5h.01M405.5 323.5h.01M405.5 326.5h.01M405.5 328.5h.01M405.5 330.5h.01M405.5 331.5h.01M405.5 332.5h.01M406.5 331.5h.01M406.5 329.5h.01M406.5 327.5h.01M406.5 324.5h.01M406.5 320.5h.01M406.5 317.5h.01M406.5 313.5h.01M406.5 310.5h.01M407.5 308.5h.01M407.5 306.5h.01M407.5 307.5h.01M407.5 311.5h.01M407.5 314.5h.01M407.5 318.5h.01M407.5 322.5h.01M408.5 325.5h.01M408.5 328.5h.01M408.5 331.5h.01M408.5 332.5h.01M408.5 334.5h.01M408.5 333.5h.01M409.5 329.5h.01M409.5 326.5h.01M409.5 323.5h.01M409.5 319.5h.01M409.5 316.5h.01M409.5 312.5h.01M409.5 310.5h.01M409.5 308.5h.01M410.5 308.5h.01M410.5 310.5h.01M410.5 313.5h.01M410.5 316.5h.01M410.5 320.5h.01M410.5 324.5h.01M410.5 327.5h.01M410.5 330.5h.01M411.5 333.5h.01M411.5 335.5h.01M411.5 336.5h.01M411.5 331.5h.01M411.5 328.5h.01M412.5 324.5h.01M412.5 321.5h.01M412.5 317.5h.01M412.5 314.5h.01M412.5 311.5h.01M412.5 310.5h.01M412.5 309.5h.01M412.5 312.5h.01M413.5 314.5h.01M413.5 318.5h.01M413.5 322.5h.01M413.5 325.5h.01M413.5 329.5h.01M413.5 332.5h.01M413.5 335.5h.01M413.5 337.5h.01M413.5 338.5h.01M414.5 338.5h.01M414.5 337.5h.01M414.5 335.5h.01M414.5 333.5h.01M414.5 330.5h.01M414.5 326.5h.01M414.5 322.5h.01M414.5 319.5h.01M415.5 315.5h.01M415.5 313.5h.01M415.5 311.5h.01M415.5 310.5h.01M415.5 316.5h.01M415.5 319.5h.01M416.5 323.5h.01M416.5 327.5h.01M416.5 331.5h.01M416.5 334.5h.01M416.5 337.5h.01M416.5 338.5h.01M416.5 340.5h.01M417.5 339.5h.01M417.5 337.5h.01M417.5 334.5h.01M417.5 331.5h.01M417.5 328.5h.01M417.5 324.5h.01M417.5 320.5h.01M417.5 317.5h.01M417.5 314.5h.01M418.5 312.5h.01M418.5 314.5h.01M418.5 317.5h.01M418.5 320.5h.01M418.5 324.5h.01M418.5 328.5h.01M418.5 331.5h.01M419.5 335.5h.01M419.5 337.5h.01M419.5 339.5h.01M419.5 340.5h.01M420.5 335.5h.01M420.5 332.5h.01M420.5 328.5h.01M420.5 324.5h.01M420.5 321.5h.01M420.5 317.5h.01M420.5 315.5h.01M420.5 313.5h.01M420.5 312.5h.01M421.5 313.5h.01M421.5 315.5h.01M421.5 317.5h.01M421.5 321.5h.01M421.5 324.5h.01M421.5 328.5h.01M421.5 332.5h.01M421.5 335.5h.01M421.5 337.5h.01M422.5 339.5h.01M422.5 340.5h.01M422.5 341.5h.01M422.5 337.5h.01M422.5 335.5h.01M422.5 332.5h.01M422.5 328.5h.01M423.5 325.5h.01M423.5 321.5h.01M423.5 318.5h.01M423.5 315.5h.01M423.5 313.5h.01M424.5 318.5h.01M424.5 321.5h.01M424.5 325.5h.01M424.5 329.5h.01M424.5 332.5h.01M424.5 335.5h.01M424.5 338.5h.01M424.5 340.5h.01M424.5 341.5h.01M425.5 341.5h.01M425.5 340.5h.01M425.5 338.5h.01M425.5 336.5h.01M425.5 333.5h.01M425.5 329.5h.01M425.5 326.5h.01M425.5 322.5h.01M426.5 319.5h.01M426.5 316.5h.01M426.5 314.5h.01M426.5 315.5h.01M426.5 323.5h.01M426.5 326.5h.01M427.5 330.5h.01M427.5 334.5h.01M427.5 337.5h.01M427.5 340.5h.01M427.5 342.5h.01M427.5 343.5h.01M428.5 342.5h.01M428.5 340.5h.01M428.5 338.5h.01M428.5 335.5h.01M428.5 332.5h.01M428.5 328.5h.01M428.5 324.5h.01M428.5 321.5h.01M428.5 319.5h.01M429.5 317.5h.01M429.5 319.5h.01M429.5 322.5h.01M429.5 325.5h.01M429.5 329.5h.01M429.5 333.5h.01M429.5 337.5h.01M430.5 340.5h.01M430.5 342.5h.01M430.5 344.5h.01M430.5 345.5h.01M430.5 346.5h.01M430.5 343.5h.01M430.5 341.5h.01M431.5 338.5h.01M431.5 334.5h.01M431.5 331.5h.01M431.5 327.5h.01M431.5 324.5h.01M431.5 321.5h.01M431.5 320.5h.01M431.5 319.5h.01M432.5 320.5h.01M432.5 321.5h.01M432.5 324.5h.01M432.5 328.5h.01M432.5 331.5h.01M432.5 335.5h.01M432.5 339.5h.01M432.5 342.5h.01M432.5 344.5h.01M433.5 346.5h.01M433.5 347.5h.01M433.5 348.5h.01M433.5 345.5h.01M433.5 342.5h.01M433.5 339.5h.01M433.5 336.5h.01M434.5 332.5h.01M434.5 328.5h.01M434.5 325.5h.01M434.5 323.5h.01M434.5 321.5h.01M434.5 320.5h.01M435.5 329.5h.01M435.5 333.5h.01M435.5 336.5h.01M435.5 340.5h.01M435.5 343.5h.01M435.5 346.5h.01M435.5 348.5h.01M435.5 349.5h.01M436.5 349.5h.01M436.5 348.5h.01M436.5 346.5h.01M436.5 344.5h.01M436.5 340.5h.01M436.5 337.5h.01M436.5 333.5h.01M436.5 329.5h.01M437.5 326.5h.01M437.5 324.5h.01M437.5 322.5h.01M437.5 321.5h.01M437.5 330.5h.01M437.5 334.5h.01M438.5 337.5h.01M438.5 341.5h.01M438.5 344.5h.01M438.5 347.5h.01M438.5 349.5h.01M438.5 350.5h.01M439.5 347.5h.01M439.5 345.5h.01M439.5 342.5h.01M439.5 338.5h.01M439.5 334.5h.01M439.5 331.5h.01M439.5 327.5h.01M439.5 325.5h.01M440.5 323.5h.01M440.5 322.5h.01M440.5 325.5h.01M440.5 328.5h.01M440.5 331.5h.01M440.5 335.5h.01M440.5 339.5h.01M440.5 342.5h.01M441.5 345.5h.01M441.5 348.5h.01M441.5 350.5h.01M441.5 351.5h.01M441.5 346.5h.01M442.5 343.5h.01M442.5 339.5h.01M442.5 336.5h.01M442.5 332.5h.01M442.5 329.5h.01M442.5 327.5h.01M442.5 325.5h.01M442.5 326.5h.01M443.5 327.5h.01M443.5 330.5h.01M443.5 333.5h.01M443.5 337.5h.01M443.5 341.5h.01M443.5 344.5h.01M443.5 347.5h.01M443.5 349.5h.01M444.5 351.5h.01M444.5 352.5h.01M444.5 353.5h.01M444.5 350.5h.01M444.5 348.5h.01M444.5 345.5h.01M444.5 342.5h.01M445.5 339.5h.01M445.5 336.5h.01M445.5 333.5h.01M445.5 330.5h.01M445.5 329.5h.01M445.5 331.5h.01M445.5 334.5h.01M446.5 337.5h.01M446.5 341.5h.01M446.5 344.5h.01M446.5 348.5h.01M446.5 351.5h.01M446.5 354.5h.01M446.5 356.5h.01M446.5 357.5h.01M446.5 358.5h.01M447.5 357.5h.01M447.5 355.5h.01M447.5 353.5h.01M447.5 350.5h.01M447.5 347.5h.01M447.5 343.5h.01M447.5 340.5h.01M447.5 336.5h.01M448.5 334.5h.01M448.5 332.5h.01M448.5 333.5h.01M448.5 337.5h.01M448.5 341.5h.01M448.5 345.5h.01M449.5 348.5h.01M449.5 352.5h.01M449.5 355.5h.01M449.5 358.5h.01M449.5 360.5h.01M449.5 361.5h.01M449.5 362.5h.01M450.5 359.5h.01M450.5 356.5h.01M450.5 353.5h.01M450.5 350.5h.01M450.5 346.5h.01M450.5 343.5h.01M450.5 340.5h.01M450.5 337.5h.01M450.5 336.5h.01M451.5 335.5h.01M451.5 336.5h.01M451.5 338.5h.01M451.5 340.5h.01M451.5 344.5h.01M451.5 348.5h.01M451.5 351.5h.01M451.5 355.5h.01M451.5 358.5h.01M452.5 361.5h.01M452.5 363.5h.01M452.5 364.5h.01M452.5 359.5h.01M453.5 356.5h.01M453.5 353.5h.01M453.5 349.5h.01M453.5 346.5h.01M453.5 343.5h.01M453.5 340.5h.01M453.5 339.5h.01M453.5 338.5h.01M454.5 341.5h.01M454.5 343.5h.01M454.5 347.5h.01M454.5 350.5h.01M454.5 354.5h.01M454.5 358.5h.01M454.5 361.5h.01M454.5 363.5h.01M454.5 365.5h.01M455.5 366.5h.01M455.5 365.5h.01M455.5 364.5h.01M455.5 361.5h.01M455.5 358.5h.01M455.5 355.5h.01M455.5 351.5h.01M456.5 348.5h.01M456.5 345.5h.01M456.5 342.5h.01M456.5 341.5h.01M456.5 340.5h.01M457.5 348.5h.01M457.5 352.5h.01M457.5 356.5h.01M457.5 359.5h.01M457.5 362.5h.01M457.5 364.5h.01M457.5 366.5h.01M457.5 367.5h.01M457.5 368.5h.01M458.5 367.5h.01M458.5 366.5h.01M458.5 365.5h.01M458.5 362.5h.01M458.5 359.5h.01M458.5 356.5h.01M458.5 352.5h.01M458.5 349.5h.01M458.5 346.5h.01M459.5 343.5h.01M459.5 342.5h.01M459.5 341.5h.01M459.5 346.5h.01M459.5 349.5h.01M459.5 353.5h.01M459.5 356.5h.01M460.5 360.5h.01M460.5 363.5h.01M460.5 365.5h.01M460.5 367.5h.01M460.5 368.5h.01M461.5 365.5h.01M461.5 363.5h.01M461.5 360.5h.01M461.5 357.5h.01M461.5 353.5h.01M461.5 350.5h.01M461.5 346.5h.01M461.5 344.5h.01M461.5 342.5h.01M462.5 342.5h.01M462.5 344.5h.01M462.5 347.5h.01M462.5 350.5h.01M462.5 353.5h.01M462.5 357.5h.01M462.5 360.5h.01M462.5 363.5h.01M463.5 365.5h.01M463.5 367.5h.01M463.5 368.5h.01M463.5 369.5h.01M463.5 366.5h.01M463.5 363.5h.01M463.5 360.5h.01M464.5 357.5h.01M464.5 354.5h.01M464.5 350.5h.01M464.5 347.5h.01M464.5 345.5h.01M464.5 343.5h.01M465.5 345.5h.01M465.5 347.5h.01M465.5 351.5h.01M465.5 354.5h.01M465.5 358.5h.01M465.5 361.5h.01M465.5 364.5h.01M465.5 366.5h.01M465.5 368.5h.01M466.5 369.5h.01M466.5 368.5h.01M466.5 366.5h.01M466.5 364.5h.01M466.5 361.5h.01M466.5 358.5h.01M466.5 355.5h.01M467.5 352.5h.01M467.5 349.5h.01M467.5 346.5h.01M467.5 345.5h.01M467.5 344.5h.01M467.5 347.5h.01M468.5 356.5h.01M468.5 359.5h.01M468.5 363.5h.01M468.5 366.5h.01M468.5 368.5h.01M468.5 370.5h.01M468.5 371.5h.01M468.5 372.5h.01M469.5 371.5h.01M469.5 370.5h.01M469.5 369.5h.01M469.5 367.5h.01M469.5 364.5h.01M469.5 361.5h.01M469.5 357.5h.01M469.5 354.5h.01M469.5 351.5h.01M470.5 348.5h.01M470.5 347.5h.01M470.5 346.5h.01M470.5 349.5h.01M470.5 351.5h.01M470.5 355.5h.01M470.5 358.5h.01M470.5 362.5h.01M471.5 365.5h.01M471.5 368.5h.01M471.5 371.5h.01M471.5 373.5h.01M471.5 374.5h.01M471.5 372.5h.01M472.5 369.5h.01M472.5 367.5h.01M472.5 363.5h.01M472.5 360.5h.01M472.5 356.5h.01M472.5 353.5h.01M472.5 351.5h.01M472.5 349.5h.01M473.5 349.5h.01M473.5 350.5h.01M473.5 351.5h.01M473.5 354.5h.01M473.5 357.5h.01M473.5 361.5h.01M473.5 365.5h.01M473.5 368.5h.01M473.5 371.5h.01M474.5 374.5h.01M474.5 375.5h.01M474.5 377.5h.01M474.5 376.5h.01M474.5 372.5h.01M474.5 369.5h.01M475.5 366.5h.01M475.5 362.5h.01M475.5 359.5h.01M475.5 356.5h.01M475.5 353.5h.01M475.5 352.5h.01M475.5 351.5h.01M475.5 354.5h.01M476.5 356.5h.01M476.5 360.5h.01M476.5 363.5h.01M476.5 367.5h.01M476.5 370.5h.01M476.5 373.5h.01M476.5 376.5h.01M476.5 378.5h.01M477.5 379.5h.01M477.5 378.5h.01M477.5 376.5h.01M477.5 374.5h.01M477.5 371.5h.01M477.5 368.5h.01M477.5 364.5h.01M478.5 361.5h.01M478.5 358.5h.01M478.5 356.5h.01M478.5 354.5h.01M478.5 362.5h.01M479.5 365.5h.01M479.5 369.5h.01M479.5 372.5h.01M479.5 375.5h.01M479.5 378.5h.01M479.5 379.5h.01M479.5 381.5h.01M480.5 380.5h.01M480.5 378.5h.01M480.5 376.5h.01M480.5 373.5h.01M480.5 370.5h.01M480.5 366.5h.01M480.5 363.5h.01M480.5 359.5h.01M481.5 357.5h.01M481.5 355.5h.01M481.5 359.5h.01M481.5 363.5h.01M481.5 366.5h.01M481.5 370.5h.01M482.5 374.5h.01M482.5 377.5h.01M482.5 379.5h.01M482.5 381.5h.01M482.5 382.5h.01M483.5 377.5h.01M483.5 374.5h.01M483.5 370.5h.01M483.5 366.5h.01M483.5 363.5h.01M483.5 359.5h.01M483.5 357.5h.01M483.5 355.5h.01M484.5 355.5h.01M484.5 357.5h.01M484.5 359.5h.01M484.5 363.5h.01M484.5 366.5h.01M484.5 370.5h.01M484.5 374.5h.01M484.5 377.5h.01M484.5 379.5h.01M485.5 381.5h.01M485.5 382.5h.01M485.5 379.5h.01M485.5 377.5h.01M485.5 374.5h.01M486.5 370.5h.01M486.5 366.5h.01M486.5 363.5h.01M486.5 359.5h.01M486.5 357.5h.01M486.5 355.5h.01M487.5 359.5h.01M487.5 363.5h.01M487.5 366.5h.01M487.5 370.5h.01M487.5 373.5h.01M487.5 376.5h.01M487.5 379.5h.01M487.5 381.5h.01M487.5 382.5h.01M488.5 382.5h.01M488.5 381.5h.01M488.5 379.5h.01M488.5 376.5h.01M488.5 373.5h.01M488.5 370.5h.01M488.5 366.5h.01M488.5 363.5h.01M489.5 359.5h.01M489.5 357.5h.01M489.5 355.5h.01M489.5 363.5h.01M490.5 366.5h.01M490.5 370.5h.01M490.5 373.5h.01M490.5 376.5h.01M490.5 379.5h.01M490.5 381.5h.01M490.5 382.5h.01M491.5 381.5h.01M491.5 379.5h.01M491.5 377.5h.01M491.5 374.5h.01M491.5 370.5h.01M491.5 367.5h.01M491.5 363.5h.01M491.5 360.5h.01M491.5 358.5h.01M492.5 356.5h.01M492.5 358.5h.01M492.5 361.5h.01M492.5 364.5h.01M492.5 368.5h.01M492.5 371.5h.01M492.5 375.5h.01M493.5 378.5h.01M493.5 380.5h.01M493.5 382.5h.01M493.5 383.5h.01M493.5 384.5h.01M493.5 381.5h.01M494.5 379.5h.01M494.5 376.5h.01M494.5 373.5h.01M494.5 369.5h.01M494.5 366.5h.01M494.5 363.5h.01M494.5 361.5h.01M494.5 359.5h.01M495.5 360.5h.01M495.5 361.5h.01M495.5 364.5h.01M495.5 367.5h.01M495.5 371.5h.01M495.5 374.5h.01M495.5 378.5h.01M495.5 381.5h.01M495.5 383.5h.01M496.5 385.5h.01M496.5 386.5h.01M496.5 384.5h.01M496.5 381.5h.01M496.5 379.5h.01M496.5 376.5h.01M497.5 372.5h.01M497.5 369.5h.01M497.5 366.5h.01M497.5 364.5h.01M497.5 362.5h.01M498.5 367.5h.01M498.5 370.5h.01M498.5 373.5h.01M498.5 377.5h.01M498.5 380.5h.01M498.5 383.5h.01M498.5 385.5h.01M498.5 387.5h.01M498.5 388.5h.01M499.5 388.5h.01M499.5 387.5h.01M499.5 385.5h.01M499.5 383.5h.01M499.5 380.5h.01M499.5 377.5h.01M499.5 374.5h.01M499.5 370.5h.01M500.5 367.5h.01M500.5 365.5h.01M500.5 364.5h.01M500.5 363.5h.01M500.5 368.5h.01M500.5 371.5h.01M500.5 374.5h.01M501.5 378.5h.01M501.5 381.5h.01M501.5 384.5h.01M501.5 386.5h.01M501.5 388.5h.01M501.5 389.5h.01M502.5 388.5h.01M502.5 386.5h.01M502.5 384.5h.01M502.5 381.5h.01M502.5 378.5h.01M502.5 375.5h.01M502.5 372.5h.01M502.5 369.5h.01M502.5 366.5h.01M503.5 365.5h.01M503.5 364.5h.01M503.5 366.5h.01M503.5 369.5h.01M503.5 372.5h.01M503.5 375.5h.01M503.5 379.5h.01M503.5 382.5h.01M504.5 385.5h.01M504.5 387.5h.01M504.5 389.5h.01M504.5 390.5h.01M505.5 383.5h.01M505.5 379.5h.01M505.5 376.5h.01M505.5 373.5h.01M505.5 370.5h.01M505.5 367.5h.01M505.5 366.5h.01M506.5 366.5h.01M506.5 368.5h.01M506.5 370.5h.01M506.5 373.5h.01M506.5 377.5h.01M506.5 380.5h.01M506.5 383.5h.01M506.5 386.5h.01M506.5 388.5h.01M507.5 390.5h.01M507.5 391.5h.01M507.5 392.5h.01M507.5 389.5h.01M507.5 387.5h.01M507.5 384.5h.01M507.5 381.5h.01M508.5 378.5h.01M508.5 374.5h.01M508.5 372.5h.01M508.5 369.5h.01M508.5 368.5h.01M508.5 367.5h.01M508.5 370.5h.01M509.5 375.5h.01M509.5 379.5h.01M509.5 382.5h.01M509.5 385.5h.01M509.5 388.5h.01M509.5 390.5h.01M509.5 392.5h.01M509.5 393.5h.01M510.5 393.5h.01M510.5 392.5h.01M510.5 391.5h.01M510.5 389.5h.01M510.5 386.5h.01M510.5 383.5h.01M510.5 380.5h.01M510.5 377.5h.01M511.5 374.5h.01M511.5 372.5h.01M511.5 370.5h.01M511.5 371.5h.01M511.5 377.5h.01M511.5 381.5h.01M512.5 384.5h.01M512.5 387.5h.01M512.5 390.5h.01M512.5 392.5h.01M512.5 393.5h.01M512.5 394.5h.01M512.5 395.5h.01M513.5 392.5h.01M513.5 390.5h.01M513.5 388.5h.01M513.5 384.5h.01M513.5 381.5h.01M513.5 378.5h.01M513.5 375.5h.01M513.5 373.5h.01M514.5 371.5h.01M514.5 373.5h.01M514.5 375.5h.01M514.5 378.5h.01M514.5 382.5h.01M514.5 385.5h.01M514.5 388.5h.01M515.5 391.5h.01M515.5 393.5h.01M515.5 395.5h.01M515.5 396.5h.01M515.5 397.5h.01M515.5 394.5h.01M515.5 392.5h.01M516.5 389.5h.01M516.5 386.5h.01M516.5 382.5h.01M516.5 379.5h.01M516.5 376.5h.01M516.5 373.5h.01M516.5 372.5h.01M516.5 371.5h.01M517.5 374.5h.01M517.5 376.5h.01M517.5 379.5h.01M517.5 383.5h.01M517.5 387.5h.01M517.5 390.5h.01M517.5 393.5h.01M517.5 395.5h.01M517.5 397.5h.01M518.5 398.5h.01M518.5 399.5h.01M518.5 396.5h.01M518.5 394.5h.01M518.5 391.5h.01M518.5 388.5h.01M519.5 384.5h.01M519.5 381.5h.01M519.5 378.5h.01M519.5 376.5h.01M519.5 374.5h.01M519.5 379.5h.01M520.5 382.5h.01M520.5 385.5h.01M520.5 389.5h.01M520.5 392.5h.01M520.5 395.5h.01M520.5 398.5h.01M520.5 399.5h.01M520.5 400.5h.01M520.5 401.5h.01M521.5 400.5h.01M521.5 398.5h.01M521.5 396.5h.01M521.5 393.5h.01M521.5 390.5h.01M521.5 387.5h.01M521.5 384.5h.01M521.5 381.5h.01M522.5 378.5h.01M522.5 377.5h.01M522.5 376.5h.01M522.5 379.5h.01M522.5 381.5h.01M522.5 384.5h.01M522.5 388.5h.01M523.5 391.5h.01M523.5 394.5h.01M523.5 397.5h.01M523.5 399.5h.01M523.5 401.5h.01M523.5 402.5h.01M524.5 400.5h.01M524.5 397.5h.01M524.5 395.5h.01M524.5 392.5h.01M524.5 388.5h.01M524.5 385.5h.01M524.5 382.5h.01M524.5 380.5h.01M524.5 378.5h.01M525.5 378.5h.01M525.5 380.5h.01M525.5 382.5h.01M525.5 385.5h.01M525.5 388.5h.01M525.5 392.5h.01M525.5 395.5h.01M525.5 398.5h.01M526.5 400.5h.01M526.5 401.5h.01M526.5 402.5h.01M526.5 403.5h.01M526.5 397.5h.01M527.5 395.5h.01M527.5 391.5h.01M527.5 388.5h.01M527.5 385.5h.01M527.5 382.5h.01M527.5 379.5h.01M527.5 378.5h.01M527.5 377.5h.01M528.5 379.5h.01M528.5 381.5h.01M528.5 384.5h.01M528.5 388.5h.01M528.5 391.5h.01M528.5 394.5h.01M528.5 397.5h.01M528.5 399.5h.01M528.5 401.5h.01M529.5 402.5h.01M529.5 401.5h.01M529.5 399.5h.01M529.5 397.5h.01M529.5 394.5h.01M529.5 391.5h.01M529.5 387.5h.01M530.5 384.5h.01M530.5 381.5h.01M530.5 379.5h.01M530.5 377.5h.01M530.5 376.5h.01M530.5 378.5h.01M531.5 384.5h.01M531.5 387.5h.01M531.5 390.5h.01M531.5 394.5h.01M531.5 396.5h.01M531.5 399.5h.01M531.5 400.5h.01M531.5 401.5h.01M531.5 402.5h.01M532.5 401.5h.01M532.5 400.5h.01M532.5 399.5h.01M532.5 396.5h.01M532.5 393.5h.01M532.5 390.5h.01M532.5 387.5h.01M532.5 384.5h.01M532.5 380.5h.01M533.5 378.5h.01M533.5 376.5h.01M533.5 377.5h.01M533.5 380.5h.01M533.5 384.5h.01M533.5 387.5h.01M533.5 390.5h.01M534.5 394.5h.01M534.5 396.5h.01M534.5 399.5h.01M534.5 400.5h.01M534.5 401.5h.01M534.5 402.5h.01M535.5 399.5h.01M535.5 397.5h.01M535.5 394.5h.01M535.5 391.5h.01M535.5 387.5h.01M535.5 384.5h.01M535.5 381.5h.01M535.5 379.5h.01M535.5 377.5h.01M536.5 377.5h.01M536.5 379.5h.01M536.5 381.5h.01M536.5 385.5h.01M536.5 388.5h.01M536.5 391.5h.01M536.5 395.5h.01M536.5 398.5h.01M537.5 400.5h.01M537.5 402.5h.01M537.5 403.5h.01M537.5 398.5h.01M537.5 395.5h.01M538.5 392.5h.01M538.5 389.5h.01M538.5 385.5h.01M538.5 382.5h.01M538.5 380.5h.01M538.5 378.5h.01M538.5 379.5h.01M539.5 380.5h.01M539.5 383.5h.01M539.5 386.5h.01M539.5 389.5h.01M539.5 393.5h.01M539.5 396.5h.01M539.5 399.5h.01M539.5 402.5h.01M539.5 403.5h.01M540.5 405.5h.01M540.5 404.5h.01M540.5 402.5h.01M540.5 400.5h.01M540.5 397.5h.01M540.5 394.5h.01M540.5 390.5h.01M541.5 387.5h.01M541.5 384.5h.01M541.5 381.5h.01M541.5 380.5h.01M541.5 379.5h.01M541.5 382.5h.01M541.5 388.5h.01M542.5 391.5h.01M542.5 395.5h.01M542.5 398.5h.01M542.5 401.5h.01M542.5 403.5h.01M542.5 405.5h.01M542.5 406.5h.01M542.5 407.5h.01M543.5 406.5h.01M543.5 404.5h.01M543.5 402.5h.01M543.5 399.5h.01M543.5 396.5h.01M543.5 392.5h.01M543.5 389.5h.01M543.5 386.5h.01M544.5 383.5h.01M544.5 382.5h.01M544.5 381.5h.01M544.5 384.5h.01M544.5 386.5h.01M544.5 389.5h.01M544.5 393.5h.01M544.5 396.5h.01M545.5 400.5h.01M545.5 403.5h.01M545.5 405.5h.01M545.5 407.5h.01M545.5 408.5h.01M545.5 406.5h.01M546.5 403.5h.01M546.5 401.5h.01M546.5 397.5h.01M546.5 394.5h.01M546.5 390.5h.01M546.5 387.5h.01M546.5 385.5h.01M546.5 383.5h.01M547.5 383.5h.01M547.5 385.5h.01M547.5 388.5h.01M547.5 391.5h.01M547.5 394.5h.01M547.5 398.5h.01M547.5 401.5h.01M547.5 404.5h.01M548.5 406.5h.01M548.5 408.5h.01M548.5 409.5h.01M548.5 410.5h.01M548.5 407.5h.01M548.5 404.5h.01M548.5 401.5h.01M549.5 398.5h.01M549.5 394.5h.01M549.5 391.5h.01M549.5 387.5h.01M549.5 385.5h.01M549.5 383.5h.01M550.5 387.5h.01M550.5 390.5h.01M550.5 394.5h.01M550.5 398.5h.01M550.5 401.5h.01M550.5 404.5h.01M550.5 406.5h.01M550.5 408.5h.01M550.5 409.5h.01M551.5 409.5h.01M551.5 408.5h.01M551.5 406.5h.01M551.5 403.5h.01M551.5 401.5h.01M551.5 397.5h.01M551.5 393.5h.01M552.5 390.5h.01M552.5 387.5h.01M552.5 384.5h.01M552.5 382.5h.01M552.5 386.5h.01M553.5 393.5h.01M553.5 397.5h.01M553.5 400.5h.01M553.5 403.5h.01M553.5 405.5h.01M553.5 407.5h.01M553.5 408.5h.01M554.5 407.5h.01M554.5 405.5h.01M554.5 403.5h.01M554.5 400.5h.01M554.5 396.5h.01M554.5 393.5h.01M554.5 389.5h.01M554.5 386.5h.01M554.5 384.5h.01M555.5 382.5h.01M555.5 381.5h.01M555.5 384.5h.01M555.5 386.5h.01M555.5 389.5h.01M555.5 393.5h.01M555.5 396.5h.01M556.5 400.5h.01M556.5 403.5h.01M556.5 405.5h.01M556.5 407.5h.01M556.5 408.5h.01M557.5 403.5h.01M557.5 400.5h.01M557.5 397.5h.01M557.5 393.5h.01M557.5 390.5h.01M557.5 387.5h.01M557.5 384.5h.01M557.5 382.5h.01M558.5 383.5h.01M558.5 384.5h.01M558.5 387.5h.01M558.5 390.5h.01M558.5 393.5h.01M558.5 397.5h.01M558.5 400.5h.01M558.5 403.5h.01M558.5 406.5h.01M559.5 408.5h.01M559.5 409.5h.01M559.5 406.5h.01M559.5 404.5h.01M559.5 401.5h.01M560.5 398.5h.01M560.5 394.5h.01M560.5 390.5h.01M560.5 387.5h.01M560.5 385.5h.01M560.5 383.5h.01M561.5 388.5h.01M561.5 391.5h.01M561.5 394.5h.01M561.5 398.5h.01M561.5 401.5h.01M561.5 404.5h.01M561.5 407.5h.01M561.5 409.5h.01M561.5 410.5h.01M562.5 410.5h.01M562.5 409.5h.01M562.5 407.5h.01M562.5 405.5h.01M562.5 402.5h.01M562.5 398.5h.01M562.5 395.5h.01M562.5 391.5h.01M563.5 388.5h.01M563.5 386.5h.01M563.5 384.5h.01M563.5 389.5h.01M563.5 392.5h.01M564.5 395.5h.01M564.5 399.5h.01M564.5 402.5h.01M564.5 405.5h.01M564.5 408.5h.01M564.5 409.5h.01M564.5 411.5h.01M565.5 410.5h.01M565.5 408.5h.01M565.5 406.5h.01M565.5 403.5h.01M565.5 399.5h.01M565.5 396.5h.01M565.5 392.5h.01M565.5 389.5h.01M565.5 387.5h.01M566.5 385.5h.01M566.5 387.5h.01M566.5 390.5h.01M566.5 393.5h.01M566.5 396.5h.01M566.5 400.5h.01M566.5 403.5h.01M567.5 406.5h.01M567.5 409.5h.01M567.5 410.5h.01M567.5 411.5h.01M567.5 412.5h.01M568.5 406.5h.01M568.5 404.5h.01M568.5 400.5h.01M568.5 397.5h.01M568.5 393.5h.01M568.5 390.5h.01M568.5 388.5h.01M568.5 386.5h.01M569.5 386.5h.01M569.5 388.5h.01M569.5 390.5h.01M569.5 394.5h.01M569.5 397.5h.01M569.5 401.5h.01M569.5 404.5h.01M569.5 407.5h.01M569.5 409.5h.01M570.5 411.5h.01M570.5 412.5h.01M570.5 409.5h.01M570.5 407.5h.01M570.5 404.5h.01M570.5 401.5h.01M571.5 397.5h.01M571.5 394.5h.01M571.5 391.5h.01M571.5 388.5h.01M571.5 386.5h.01M572.5 391.5h.01M572.5 394.5h.01M572.5 397.5h.01M572.5 400.5h.01M572.5 404.5h.01M572.5 407.5h.01M572.5 409.5h.01M572.5 410.5h.01M572.5 411.5h.01M573.5 412.5h.01M573.5 411.5h.01M573.5 410.5h.01M573.5 409.5h.01M573.5 406.5h.01M573.5 404.5h.01M573.5 400.5h.01M573.5 397.5h.01M573.5 393.5h.01M574.5 390.5h.01M574.5 388.5h.01M574.5 386.5h.01M574.5 393.5h.01M574.5 397.5h.01M575.5 400.5h.01M575.5 403.5h.01M575.5 406.5h.01M575.5 408.5h.01M575.5 410.5h.01M575.5 411.5h.01M576.5 410.5h.01M576.5 408.5h.01M576.5 406.5h.01M576.5 403.5h.01M576.5 400.5h.01M576.5 396.5h.01M576.5 393.5h.01M576.5 390.5h.01M576.5 388.5h.01M577.5 386.5h.01M577.5 385.5h.01M577.5 388.5h.01M577.5 390.5h.01M577.5 393.5h.01M577.5 396.5h.01M577.5 400.5h.01M577.5 403.5h.01M578.5 406.5h.01M578.5 408.5h.01M578.5 410.5h.01M578.5 411.5h.01M579.5 403.5h.01M579.5 400.5h.01M579.5 397.5h.01M579.5 393.5h.01M579.5 390.5h.01M579.5 388.5h.01M579.5 386.5h.01M580.5 386.5h.01M580.5 388.5h.01M580.5 390.5h.01M580.5 394.5h.01M580.5 397.5h.01M580.5 401.5h.01M580.5 404.5h.01M580.5 407.5h.01M580.5 409.5h.01M581.5 411.5h.01M581.5 412.5h.01M581.5 410.5h.01M581.5 407.5h.01M581.5 404.5h.01M581.5 401.5h.01M582.5 398.5h.01M582.5 394.5h.01M582.5 391.5h.01M582.5 389.5h.01M582.5 387.5h.01M583.5 395.5h.01M583.5 398.5h.01M583.5 402.5h.01M583.5 405.5h.01M583.5 408.5h.01M583.5 410.5h.01M583.5 412.5h.01M583.5 413.5h.01M583.5 414.5h.01M584.5 413.5h.01M584.5 412.5h.01M584.5 411.5h.01M584.5 408.5h.01M584.5 406.5h.01M584.5 402.5h.01M584.5 399.5h.01M584.5 395.5h.01M585.5 392.5h.01M585.5 390.5h.01M585.5 388.5h.01M585.5 393.5h.01M585.5 396.5h.01M585.5 399.5h.01M586.5 403.5h.01M586.5 406.5h.01M586.5 409.5h.01M586.5 412.5h.01M586.5 413.5h.01M586.5 415.5h.01M586.5 414.5h.01M587.5 412.5h.01M587.5 410.5h.01M587.5 407.5h.01M587.5 404.5h.01M587.5 400.5h.01M587.5 397.5h.01M587.5 394.5h.01M587.5 391.5h.01M587.5 390.5h.01M588.5 389.5h.01M588.5 390.5h.01M588.5 391.5h.01M588.5 394.5h.01M588.5 397.5h.01M588.5 401.5h.01M588.5 404.5h.01M588.5 408.5h.01M589.5 411.5h.01M589.5 413.5h.01M589.5 415.5h.01M589.5 416.5h.01M590.5 408.5h.01M590.5 405.5h.01M590.5 401.5h.01M590.5 398.5h.01M590.5 395.5h.01M590.5 393.5h.01M590.5 391.5h.01M591.5 393.5h.01M591.5 395.5h.01M591.5 398.5h.01M591.5 402.5h.01M591.5 405.5h.01M591.5 409.5h.01M591.5 412.5h.01M591.5 414.5h.01M591.5 416.5h.01M592.5 417.5h.01M592.5 416.5h.01M592.5 414.5h.01M592.5 412.5h.01M592.5 409.5h.01M592.5 405.5h.01M593.5 402.5h.01M593.5 398.5h.01M593.5 395.5h.01M593.5 393.5h.01M593.5 391.5h.01M594.5 398.5h.01M594.5 402.5h.01M594.5 405.5h.01M594.5 408.5h.01M594.5 411.5h.01M594.5 414.5h.01M594.5 415.5h.01M594.5 416.5h.01M594.5 417.5h.01M595.5 416.5h.01M595.5 415.5h.01M595.5 413.5h.01M595.5 411.5h.01M595.5 408.5h.01M595.5 405.5h.01M595.5 401.5h.01M595.5 398.5h.01M595.5 395.5h.01M596.5 392.5h.01M596.5 390.5h.01M596.5 394.5h.01M596.5 397.5h.01M596.5 401.5h.01M597.5 404.5h.01M597.5 408.5h.01M597.5 410.5h.01M597.5 413.5h.01M597.5 414.5h.01M597.5 415.5h.01M597.5 416.5h.01M598.5 413.5h.01M598.5 410.5h.01M598.5 407.5h.01M598.5 404.5h.01M598.5 400.5h.01M598.5 397.5h.01M598.5 394.5h.01M598.5 391.5h.01M598.5 390.5h.01M599.5 389.5h.01M599.5 391.5h.01M599.5 393.5h.01M599.5 397.5h.01M599.5 400.5h.01M599.5 404.5h.01M599.5 407.5h.01M599.5 410.5h.01M600.5 412.5h.01M600.5 414.5h.01M600.5 415.5h.01M600.5 413.5h.01M600.5 409.5h.01M601.5 406.5h.01M601.5 403.5h.01M601.5 400.5h.01M601.5 396.5h.01M601.5 393.5h.01M601.5 390.5h.01M601.5 389.5h.01M601.5 388.5h.01M602.5 390.5h.01M602.5 393.5h.01M602.5 396.5h.01M602.5 399.5h.01M602.5 403.5h.01M602.5 406.5h.01M602.5 409.5h.01M602.5 411.5h.01M602.5 413.5h.01M603.5 414.5h.01M603.5 413.5h.01M603.5 411.5h.01M603.5 409.5h.01M603.5 406.5h.01M603.5 402.5h.01M603.5 399.5h.01M604.5 395.5h.01M604.5 392.5h.01M604.5 390.5h.01M604.5 388.5h.01M604.5 387.5h.01M605.5 395.5h.01M605.5 399.5h.01M605.5 402.5h.01M605.5 405.5h.01M605.5 408.5h.01M605.5 410.5h.01M605.5 412.5h.01M605.5 413.5h.01M606.5 413.5h.01M606.5 412.5h.01M606.5 410.5h.01M606.5 408.5h.01M606.5 405.5h.01M606.5 402.5h.01M606.5 398.5h.01M606.5 395.5h.01M606.5 392.5h.01M607.5 390.5h.01M607.5 388.5h.01M607.5 387.5h.01M607.5 392.5h.01M607.5 395.5h.01M607.5 399.5h.01M607.5 402.5h.01M608.5 405.5h.01M608.5 408.5h.01M608.5 410.5h.01M608.5 412.5h.01M608.5 413.5h.01M609.5 410.5h.01M609.5 408.5h.01M609.5 405.5h.01M609.5 402.5h.01M609.5 399.5h.01M609.5 395.5h.01M609.5 392.5h.01M609.5 390.5h.01M609.5 388.5h.01M610.5 388.5h.01M610.5 390.5h.01M610.5 392.5h.01M610.5 395.5h.01M610.5 399.5h.01M610.5 402.5h.01M610.5 405.5h.01M610.5 408.5h.01M611.5 410.5h.01M611.5 412.5h.01M611.5 413.5h.01M611.5 408.5h.01M611.5 405.5h.01M612.5 402.5h.01M612.5 399.5h.01M612.5 396.5h.01M612.5 393.5h.01M612.5 390.5h.01M612.5 389.5h.01M612.5 388.5h.01M613.5 390.5h.01M613.5 393.5h.01M613.5 396.5h.01M613.5 399.5h.01M613.5 402.5h.01M613.5 405.5h.01M613.5 408.5h.01M613.5 410.5h.01M613.5 412.5h.01M614.5 412.5h.01M614.5 413.5h.01M614.5 410.5h.01M614.5 408.5h.01M614.5 405.5h.01M614.5 402.5h.01M614.5 399.5h.01M615.5 396.5h.01M615.5 393.5h.01M615.5 391.5h.01M615.5 389.5h.01M616.5 399.5h.01M616.5 402.5h.01M616.5 405.5h.01M616.5 408.5h.01M616.5 410.5h.01M616.5 412.5h.01M616.5 413.5h.01M617.5 412.5h.01M617.5 410.5h.01M617.5 408.5h.01M617.5 406.5h.01M617.5 403.5h.01M617.5 400.5h.01M617.5 396.5h.01M617.5 394.5h.01M618.5 391.5h.01M618.5 390.5h.01M618.5 389.5h.01M618.5 394.5h.01M618.5 397.5h.01M618.5 400.5h.01M618.5 404.5h.01M619.5 407.5h.01M619.5 410.5h.01M619.5 412.5h.01M619.5 414.5h.01M619.5 415.5h.01M619.5 416.5h.01M619.5 413.5h.01M620.5 411.5h.01M620.5 408.5h.01M620.5 405.5h.01M620.5 402.5h.01M620.5 398.5h.01M620.5 395.5h.01M620.5 393.5h.01M620.5 391.5h.01M620.5 390.5h.01M621.5 391.5h.01M621.5 393.5h.01M621.5 395.5h.01M621.5 399.5h.01M621.5 402.5h.01M621.5 406.5h.01M621.5 410.5h.01M621.5 413.5h.01M622.5 415.5h.01M622.5 417.5h.01M622.5 418.5h.01M622.5 419.5h.01M622.5 413.5h.01M622.5 410.5h.01M623.5 407.5h.01M623.5 403.5h.01M623.5 399.5h.01M623.5 396.5h.01M623.5 394.5h.01M623.5 392.5h.01M624.5 396.5h.01M624.5 400.5h.01M624.5 403.5h.01M624.5 407.5h.01M624.5 410.5h.01M624.5 413.5h.01M624.5 416.5h.01M624.5 417.5h.01M624.5 418.5h.01M625.5 419.5h.01M625.5 418.5h.01M625.5 417.5h.01M625.5 416.5h.01M625.5 413.5h.01M625.5 410.5h.01M625.5 407.5h.01M625.5 404.5h.01M626.5 400.5h.01M626.5 397.5h.01M626.5 395.5h.01M626.5 393.5h.01M626.5 401.5h.01M627.5 404.5h.01M627.5 408.5h.01M627.5 411.5h.01M627.5 414.5h.01M627.5 416.5h.01M627.5 418.5h.01M627.5 419.5h.01M628.5 418.5h.01M628.5 416.5h.01M628.5 414.5h.01M628.5 411.5h.01M628.5 408.5h.01M628.5 405.5h.01M628.5 401.5h.01M628.5 398.5h.01M628.5 396.5h.01M629.5 394.5h.01M629.5 393.5h.01M629.5 396.5h.01M629.5 398.5h.01M629.5 401.5h.01M629.5 405.5h.01M629.5 408.5h.01M630.5 412.5h.01M630.5 415.5h.01M630.5 417.5h.01M630.5 419.5h.01M630.5 420.5h.01M631.5 415.5h.01M631.5 412.5h.01M631.5 409.5h.01M631.5 405.5h.01M631.5 402.5h.01M631.5 399.5h.01M631.5 396.5h.01M631.5 395.5h.01M631.5 394.5h.01M632.5 395.5h.01M632.5 396.5h.01M632.5 399.5h.01M632.5 402.5h.01M632.5 406.5h.01M632.5 409.5h.01M632.5 413.5h.01M632.5 416.5h.01M632.5 418.5h.01M633.5 420.5h.01M633.5 418.5h.01M633.5 415.5h.01M633.5 413.5h.01M634.5 409.5h.01M634.5 406.5h.01M634.5 402.5h.01M634.5 399.5h.01M634.5 396.5h.01M634.5 395.5h.01M634.5 394.5h.01M635.5 399.5h.01M635.5 402.5h.01M635.5 405.5h.01M635.5 409.5h.01M635.5 412.5h.01M635.5 415.5h.01M635.5 417.5h.01M635.5 418.5h.01M635.5 419.5h.01M636.5 420.5h.01M636.5 419.5h.01M636.5 418.5h.01M636.5 416.5h.01M636.5 414.5h.01M636.5 411.5h.01M636.5 408.5h.01M636.5 404.5h.01M636.5 401.5h.01M637.5 398.5h.01M637.5 395.5h.01M637.5 394.5h.01M637.5 393.5h.01M637.5 397.5h.01M637.5 400.5h.01M638.5 404.5h.01M638.5 407.5h.01M638.5 410.5h.01M638.5 413.5h.01M638.5 415.5h.01M638.5 416.5h.01M638.5 417.5h.01M639.5 416.5h.01M639.5 414.5h.01M639.5 412.5h.01M639.5 409.5h.01M639.5 406.5h.01M639.5 403.5h.01M639.5 399.5h.01M639.5 396.5h.01M639.5 394.5h.01M640.5 392.5h.01M640.5 394.5h.01M640.5 396.5h.01M640.5 399.5h.01M640.5 402.5h.01M640.5 405.5h.01M640.5 408.5h.01M641.5 411.5h.01M641.5 413.5h.01M641.5 415.5h.01M641.5 416.5h.01M642.5 411.5h.01M642.5 408.5h.01M642.5 405.5h.01M642.5 401.5h.01M642.5 398.5h.01M642.5 395.5h.01M642.5 393.5h.01M642.5 391.5h.01M642.5 390.5h.01M643.5 391.5h.01M643.5 392.5h.01M643.5 395.5h.01M643.5 398.5h.01M643.5 401.5h.01M643.5 404.5h.01M643.5 407.5h.01M643.5 410.5h.01M643.5 412.5h.01M644.5 414.5h.01M644.5 415.5h.01M644.5 412.5h.01M644.5 410.5h.01M644.5 407.5h.01M644.5 404.5h.01M645.5 400.5h.01M645.5 397.5h.01M645.5 394.5h.01M645.5 392.5h.01M645.5 390.5h.01M645.5 389.5h.01M645.5 391.5h.01M646.5 394.5h.01M646.5 397.5h.01M646.5 400.5h.01M646.5 403.5h.01M646.5 407.5h.01M646.5 409.5h.01M646.5 412.5h.01M646.5 413.5h.01M646.5 414.5h.01M647.5 414.5h.01M647.5 413.5h.01M647.5 411.5h.01M647.5 409.5h.01M647.5 406.5h.01M647.5 403.5h.01M647.5 400.5h.01M647.5 397.5h.01M648.5 394.5h.01M648.5 391.5h.01M648.5 390.5h.01M648.5 389.5h.01M648.5 397.5h.01M648.5 400.5h.01M649.5 403.5h.01M649.5 406.5h.01M649.5 409.5h.01M649.5 411.5h.01M649.5 413.5h.01M649.5 414.5h.01M650.5 412.5h.01M650.5 409.5h.01M650.5 407.5h.01M650.5 403.5h.01M650.5 400.5h.01M650.5 397.5h.01M650.5 394.5h.01M650.5 391.5h.01M651.5 390.5h.01M651.5 389.5h.01M651.5 391.5h.01M651.5 394.5h.01M651.5 397.5h.01M651.5 400.5h.01M651.5 404.5h.01M651.5 407.5h.01M652.5 410.5h.01M652.5 412.5h.01M652.5 414.5h.01M652.5 415.5h.01M652.5 416.5h.01M652.5 413.5h.01M652.5 411.5h.01M653.5 408.5h.01M653.5 404.5h.01M653.5 401.5h.01M653.5 398.5h.01M653.5 394.5h.01M653.5 392.5h.01M653.5 390.5h.01M653.5 391.5h.01M654.5 392.5h.01M654.5 395.5h.01M654.5 398.5h.01M654.5 402.5h.01M654.5 405.5h.01M654.5 409.5h.01M654.5 412.5h.01M654.5 414.5h.01M655.5 416.5h.01M655.5 417.5h.01M655.5 414.5h.01M655.5 412.5h.01M655.5 409.5h.01M655.5 406.5h.01M656.5 402.5h.01M656.5 399.5h.01M656.5 396.5h.01M656.5 393.5h.01M656.5 391.5h.01M657.5 399.5h.01M657.5 402.5h.01M657.5 406.5h.01M657.5 409.5h.01M657.5 412.5h.01M657.5 415.5h.01M657.5 416.5h.01M657.5 417.5h.01M657.5 418.5h.01M658.5 417.5h.01M658.5 416.5h.01M658.5 414.5h.01M658.5 412.5h.01M658.5 409.5h.01M658.5 406.5h.01M658.5 402.5h.01M658.5 399.5h.01M659.5 395.5h.01M659.5 393.5h.01M659.5 391.5h.01M659.5 398.5h.01M659.5 401.5h.01M660.5 405.5h.01M660.5 408.5h.01M660.5 411.5h.01M660.5 413.5h.01M660.5 414.5h.01M660.5 415.5h.01M660.5 416.5h.01M661.5 412.5h.01M661.5 410.5h.01M661.5 407.5h.01M661.5 403.5h.01M661.5 400.5h.01M661.5 396.5h.01M661.5 393.5h.01M661.5 391.5h.01M661.5 389.5h.01M662.5 388.5h.01M662.5 389.5h.01M662.5 390.5h.01M662.5 392.5h.01M662.5 395.5h.01M662.5 399.5h.01M662.5 402.5h.01M662.5 405.5h.01M663.5 408.5h.01M663.5 410.5h.01M663.5 412.5h.01M663.5 413.5h.01M663.5 407.5h.01M664.5 404.5h.01M664.5 401.5h.01M664.5 397.5h.01M664.5 394.5h.01M664.5 391.5h.01M664.5 388.5h.01M664.5 386.5h.01M665.5 388.5h.01M665.5 390.5h.01M665.5 393.5h.01M665.5 397.5h.01M665.5 400.5h.01M665.5 403.5h.01M665.5 406.5h.01M665.5 409.5h.01M665.5 410.5h.01M666.5 411.5h.01M666.5 412.5h.01M666.5 410.5h.01M666.5 408.5h.01M666.5 406.5h.01M666.5 403.5h.01M666.5 400.5h.01M667.5 396.5h.01M667.5 392.5h.01M667.5 389.5h.01M667.5 387.5h.01M667.5 385.5h.01M668.5 392.5h.01M668.5 396.5h.01M668.5 399.5h.01M668.5 402.5h.01M668.5 405.5h.01M668.5 408.5h.01M668.5 409.5h.01M668.5 410.5h.01M668.5 411.5h.01M669.5 410.5h.01M669.5 409.5h.01M669.5 407.5h.01M669.5 405.5h.01M669.5 402.5h.01M669.5 399.5h.01M669.5 395.5h.01M669.5 392.5h.01M669.5 389.5h.01M670.5 386.5h.01M670.5 384.5h.01M670.5 388.5h.01M670.5 391.5h.01M670.5 395.5h.01M671.5 398.5h.01M671.5 402.5h.01M671.5 405.5h.01M671.5 407.5h.01M671.5 408.5h.01M671.5 409.5h.01M671.5 410.5h.01M672.5 407.5h.01M672.5 404.5h.01M672.5 401.5h.01M672.5 398.5h.01M672.5 394.5h.01M672.5 391.5h.01M672.5 388.5h.01M672.5 385.5h.01M672.5 384.5h.01M673.5 383.5h.01M673.5 384.5h.01M673.5 385.5h.01M673.5 388.5h.01M673.5 391.5h.01M673.5 394.5h.01M673.5 398.5h.01M673.5 401.5h.01M673.5 404.5h.01M674.5 406.5h.01M674.5 408.5h.01M674.5 409.5h.01M674.5 407.5h.01M674.5 403.5h.01M675.5 401.5h.01M675.5 397.5h.01M675.5 394.5h.01M675.5 390.5h.01M675.5 387.5h.01M675.5 385.5h.01M675.5 383.5h.01M676.5 385.5h.01M676.5 387.5h.01M676.5 390.5h.01M676.5 393.5h.01M676.5 397.5h.01M676.5 400.5h.01M676.5 403.5h.01M676.5 405.5h.01M676.5 407.5h.01M677.5 408.5h.01M677.5 407.5h.01M677.5 405.5h.01M677.5 403.5h.01M677.5 400.5h.01M677.5 397.5h.01M677.5 393.5h.01M678.5 390.5h.01M678.5 387.5h.01M678.5 384.5h.01M678.5 383.5h.01M678.5 382.5h.01M679.5 390.5h.01M679.5 393.5h.01M679.5 396.5h.01M679.5 399.5h.01M679.5 402.5h.01M679.5 405.5h.01M679.5 406.5h.01M679.5 407.5h.01M680.5 407.5h.01M680.5 406.5h.01M680.5 405.5h.01M680.5 402.5h.01M680.5 399.5h.01M680.5 396.5h.01M680.5 393.5h.01M680.5 389.5h.01M680.5 386.5h.01M681.5 384.5h.01M681.5 382.5h.01M681.5 386.5h.01M681.5 389.5h.01M681.5 393.5h.01M681.5 397.5h.01M682.5 400.5h.01M682.5 403.5h.01M682.5 405.5h.01M682.5 407.5h.01M682.5 408.5h.01M683.5 406.5h.01M683.5 403.5h.01M683.5 400.5h.01M683.5 397.5h.01M683.5 393.5h.01M683.5 390.5h.01M683.5 386.5h.01M683.5 384.5h.01M683.5 382.5h.01M684.5 381.5h.01M684.5 382.5h.01M684.5 384.5h.01M684.5 386.5h.01M684.5 390.5h.01M684.5 393.5h.01M684.5 397.5h.01M684.5 401.5h.01M684.5 404.5h.01M685.5 407.5h.01M685.5 409.5h.01M685.5 410.5h.01M685.5 405.5h.01M685.5 401.5h.01M686.5 398.5h.01M686.5 394.5h.01M686.5 390.5h.01M686.5 387.5h.01M686.5 384.5h.01M686.5 383.5h.01M686.5 382.5h.01M686.5 385.5h.01M687.5 387.5h.01M687.5 391.5h.01M687.5 395.5h.01M687.5 399.5h.01M687.5 402.5h.01M687.5 406.5h.01M687.5 408.5h.01M687.5 410.5h.01M688.5 411.5h.01M688.5 412.5h.01M688.5 410.5h.01M688.5 409.5h.01M688.5 406.5h.01M688.5 403.5h.01M688.5 400.5h.01M688.5 396.5h.01M689.5 392.5h.01M689.5 389.5h.01M689.5 387.5h.01M689.5 385.5h.01M689.5 390.5h.01M689.5 393.5h.01M690.5 397.5h.01M690.5 400.5h.01M690.5 404.5h.01M690.5 406.5h.01M690.5 409.5h.01M690.5 410.5h.01M690.5 411.5h.01M690.5 412.5h.01M691.5 410.5h.01M691.5 408.5h.01M691.5 406.5h.01M691.5 403.5h.01M691.5 400.5h.01M691.5 397.5h.01M691.5 393.5h.01M691.5 390.5h.01M692.5 388.5h.01M692.5 386.5h.01M692.5 385.5h.01M692.5 387.5h.01M692.5 390.5h.01M692.5 393.5h.01M692.5 396.5h.01M692.5 399.5h.01M693.5 402.5h.01M693.5 405.5h.01M693.5 407.5h.01M693.5 408.5h.01M693.5 409.5h.01M693.5 406.5h.01M694.5 404.5h.01M694.5 401.5h.01M694.5 398.5h.01M694.5 394.5h.01M694.5 391.5h.01M694.5 387.5h.01M694.5 385.5h.01M694.5 383.5h.01M695.5 383.5h.01M695.5 384.5h.01M695.5 387.5h.01M695.5 390.5h.01M695.5 393.5h.01M695.5 396.5h.01M695.5 399.5h.01M695.5 402.5h.01M696.5 404.5h.01M696.5 405.5h.01M696.5 406.5h.01M696.5 407.5h.01M696.5 403.5h.01M696.5 401.5h.01M696.5 398.5h.01M697.5 395.5h.01M697.5 391.5h.01M697.5 387.5h.01M697.5 384.5h.01M697.5 382.5h.01M697.5 380.5h.01M697.5 379.5h.01M697.5 381.5h.01M698.5 384.5h.01M698.5 387.5h.01M698.5 390.5h.01M698.5 393.5h.01M698.5 396.5h.01M698.5 399.5h.01M698.5 401.5h.01M698.5 403.5h.01M698.5 404.5h.01M699.5 404.5h.01M699.5 402.5h.01M699.5 401.5h.01M699.5 398.5h.01M699.5 396.5h.01M699.5 392.5h.01M699.5 389.5h.01M700.5 386.5h.01M700.5 382.5h.01M700.5 380.5h.01M700.5 379.5h.01M700.5 378.5h.01M700.5 385.5h.01M701.5 388.5h.01M701.5 392.5h.01M701.5 395.5h.01M701.5 397.5h.01M701.5 400.5h.01M701.5 401.5h.01M701.5 402.5h.01M702.5 401.5h.01M702.5 399.5h.01M702.5 397.5h.01M702.5 394.5h.01M702.5 391.5h.01M702.5 388.5h.01M702.5 385.5h.01M702.5 382.5h.01M702.5 379.5h.01M703.5 378.5h.01M703.5 377.5h.01M703.5 379.5h.01M703.5 382.5h.01M703.5 384.5h.01M703.5 388.5h.01M703.5 391.5h.01M704.5 394.5h.01M704.5 396.5h.01M704.5 399.5h.01M704.5 400.5h.01M704.5 401.5h.01M704.5 398.5h.01M705.5 396.5h.01M705.5 393.5h.01M705.5 390.5h.01M705.5 387.5h.01M705.5 384.5h.01M705.5 381.5h.01M705.5 379.5h.01M705.5 377.5h.01M706.5 377.5h.01M706.5 379.5h.01M706.5 381.5h.01M706.5 384.5h.01M706.5 387.5h.01M706.5 390.5h.01M706.5 393.5h.01M706.5 395.5h.01M706.5 398.5h.01M707.5 399.5h.01M707.5 400.5h.01M707.5 397.5h.01M707.5 395.5h.01M707.5 393.5h.01M708.5 390.5h.01M708.5 386.5h.01M708.5 383.5h.01M708.5 380.5h.01M708.5 378.5h.01M708.5 377.5h.01M708.5 376.5h.01M709.5 380.5h.01M709.5 383.5h.01M709.5 386.5h.01M709.5 389.5h.01M709.5 392.5h.01M709.5 394.5h.01M709.5 397.5h.01M709.5 398.5h.01M709.5 399.5h.01M710.5 399.5h.01M710.5 398.5h.01M710.5 396.5h.01M710.5 394.5h.01M710.5 392.5h.01M710.5 389.5h.01M710.5 386.5h.01M710.5 382.5h.01M711.5 380.5h.01M711.5 378.5h.01M711.5 376.5h.01M711.5 377.5h.01M711.5 382.5h.01M712.5 385.5h.01M712.5 388.5h.01M712.5 391.5h.01M712.5 394.5h.01M712.5 396.5h.01M712.5 397.5h.01M712.5 398.5h.01M713.5 397.5h.01M713.5 395.5h.01M713.5 393.5h.01M713.5 391.5h.01M713.5 388.5h.01M713.5 385.5h.01M713.5 382.5h.01M713.5 379.5h.01M713.5 377.5h.01M714.5 375.5h.01M714.5 376.5h.01M714.5 378.5h.01M714.5 381.5h.01M714.5 384.5h.01M714.5 387.5h.01M714.5 390.5h.01M715.5 392.5h.01M715.5 394.5h.01M715.5 396.5h.01M715.5 397.5h.01M716.5 392.5h.01M716.5 389.5h.01M716.5 386.5h.01M716.5 383.5h.01M716.5 380.5h.01M716.5 376.5h.01M716.5 374.5h.01M716.5 372.5h.01M717.5 372.5h.01M717.5 373.5h.01M717.5 376.5h.01M717.5 379.5h.01M717.5 382.5h.01M717.5 385.5h.01M717.5 388.5h.01M717.5 391.5h.01M717.5 393.5h.01M718.5 395.5h.01M718.5 396.5h.01M718.5 393.5h.01M718.5 391.5h.01M718.5 388.5h.01M718.5 384.5h.01M719.5 381.5h.01M719.5 377.5h.01M719.5 374.5h.01M719.5 371.5h.01M719.5 369.5h.01M719.5 373.5h.01M720.5 377.5h.01M720.5 380.5h.01M720.5 384.5h.01M720.5 387.5h.01M720.5 390.5h.01M720.5 392.5h.01M720.5 394.5h.01M720.5 395.5h.01M721.5 395.5h.01M721.5 394.5h.01M721.5 392.5h.01M721.5 390.5h.01M721.5 387.5h.01M721.5 383.5h.01M721.5 380.5h.01M721.5 376.5h.01M722.5 373.5h.01M722.5 371.5h.01M722.5 369.5h.01M722.5 368.5h.01M722.5 376.5h.01M722.5 379.5h.01M723.5 383.5h.01M723.5 386.5h.01M723.5 389.5h.01M723.5 391.5h.01M723.5 393.5h.01M723.5 394.5h.01M724.5 391.5h.01M724.5 388.5h.01M724.5 386.5h.01M724.5 382.5h.01M724.5 379.5h.01M724.5 376.5h.01M724.5 372.5h.01M724.5 370.5h.01M725.5 368.5h.01M725.5 370.5h.01M725.5 372.5h.01M725.5 375.5h.01M725.5 378.5h.01M725.5 382.5h.01M725.5 385.5h.01M726.5 387.5h.01M726.5 390.5h.01M726.5 391.5h.01M726.5 392.5h.01M726.5 389.5h.01M727.5 384.5h.01M727.5 380.5h.01M727.5 377.5h.01M727.5 374.5h.01M727.5 370.5h.01M727.5 368.5h.01M727.5 366.5h.01M728.5 367.5h.01M728.5 370.5h.01M728.5 373.5h.01M728.5 376.5h.01M728.5 379.5h.01M728.5 382.5h.01M728.5 385.5h.01M728.5 387.5h.01M729.5 389.5h.01M729.5 390.5h.01M729.5 387.5h.01M729.5 384.5h.01M729.5 382.5h.01M729.5 378.5h.01M730.5 375.5h.01M730.5 371.5h.01M730.5 368.5h.01M730.5 366.5h.01M730.5 364.5h.01M731.5 371.5h.01M731.5 374.5h.01M731.5 377.5h.01M731.5 380.5h.01M731.5 383.5h.01M731.5 385.5h.01M731.5 387.5h.01M731.5 388.5h.01M732.5 387.5h.01M732.5 386.5h.01M732.5 385.5h.01M732.5 382.5h.01M732.5 380.5h.01M732.5 376.5h.01M732.5 373.5h.01M732.5 370.5h.01M733.5 367.5h.01M733.5 365.5h.01M733.5 363.5h.01M733.5 362.5h.01M733.5 364.5h.01M733.5 366.5h.01M733.5 369.5h.01M733.5 372.5h.01M734.5 375.5h.01M734.5 378.5h.01M734.5 381.5h.01M734.5 383.5h.01M734.5 384.5h.01M734.5 385.5h.01M734.5 386.5h.01M735.5 382.5h.01M735.5 380.5h.01M735.5 377.5h.01M735.5 374.5h.01M735.5 371.5h.01M735.5 368.5h.01M735.5 365.5h.01M735.5 362.5h.01M735.5 361.5h.01M736.5 360.5h.01M736.5 362.5h.01M736.5 364.5h.01M736.5 367.5h.01M736.5 370.5h.01M736.5 374.5h.01M736.5 377.5h.01M737.5 379.5h.01M737.5 381.5h.01M737.5 383.5h.01M737.5 384.5h.01M738.5 376.5h.01M738.5 373.5h.01M738.5 370.5h.01M738.5 366.5h.01M738.5 363.5h.01M738.5 361.5h.01M738.5 359.5h.01M739.5 361.5h.01M739.5 363.5h.01M739.5 366.5h.01M739.5 369.5h.01M739.5 372.5h.01M739.5 375.5h.01M739.5 378.5h.01M739.5 380.5h.01M739.5 382.5h.01M740.5 383.5h.01M740.5 382.5h.01M740.5 380.5h.01M740.5 378.5h.01M740.5 375.5h.01M740.5 372.5h.01M741.5 368.5h.01M741.5 365.5h.01M741.5 362.5h.01M741.5 359.5h.01M741.5 358.5h.01M741.5 357.5h.01M741.5 361.5h.01M742.5 364.5h.01M742.5 367.5h.01M742.5 371.5h.01M742.5 374.5h.01M742.5 377.5h.01M742.5 379.5h.01M742.5 380.5h.01M742.5 381.5h.01M742.5 382.5h.01M743.5 381.5h.01M743.5 380.5h.01M743.5 379.5h.01M743.5 376.5h.01M743.5 373.5h.01M743.5 370.5h.01M743.5 366.5h.01M743.5 363.5h.01M743.5 359.5h.01M744.5 357.5h.01M744.5 355.5h.01M744.5 354.5h.01M744.5 359.5h.01M744.5 362.5h.01M744.5 366.5h.01M745.5 369.5h.01M745.5 372.5h.01M745.5 375.5h.01M745.5 378.5h.01M745.5 379.5h.01M745.5 380.5h.01M745.5 381.5h.01M746.5 377.5h.01M746.5 375.5h.01M746.5 372.5h.01M746.5 369.5h.01M746.5 365.5h.01M746.5 361.5h.01M746.5 358.5h.01M746.5 356.5h.01M746.5 354.5h.01M747.5 353.5h.01M747.5 354.5h.01M747.5 356.5h.01M747.5 358.5h.01M747.5 361.5h.01M747.5 365.5h.01M747.5 368.5h.01M747.5 371.5h.01M747.5 374.5h.01M748.5 376.5h.01M748.5 378.5h.01M748.5 379.5h.01M748.5 374.5h.01M749.5 371.5h.01M749.5 368.5h.01M749.5 364.5h.01M749.5 361.5h.01M749.5 358.5h.01M749.5 355.5h.01M749.5 354.5h.01M749.5 353.5h.01M750.5 355.5h.01M750.5 357.5h.01M750.5 360.5h.01M750.5 364.5h.01M750.5 367.5h.01M750.5 370.5h.01M750.5 373.5h.01M750.5 375.5h.01M750.5 377.5h.01M751.5 378.5h.01M751.5 377.5h.01M751.5 375.5h.01M751.5 373.5h.01M751.5 370.5h.01M751.5 367.5h.01M751.5 363.5h.01M752.5 360.5h.01M752.5 357.5h.01M752.5 354.5h.01M752.5 353.5h.01M752.5 352.5h.01M752.5 359.5h.01M753.5 363.5h.01M753.5 366.5h.01M753.5 369.5h.01M753.5 372.5h.01M753.5 374.5h.01M753.5 375.5h.01M753.5 376.5h.01M753.5 377.5h.01M754.5 376.5h.01M754.5 375.5h.01M754.5 373.5h.01M754.5 371.5h.01M754.5 368.5h.01M754.5 365.5h.01M754.5 362.5h.01M754.5 358.5h.01M754.5 355.5h.01M755.5 353.5h.01M755.5 351.5h.01M755.5 352.5h.01M755.5 355.5h.01M755.5 357.5h.01M755.5 361.5h.01M755.5 364.5h.01M756.5 367.5h.01M756.5 369.5h.01M756.5 372.5h.01M756.5 373.5h.01M756.5 374.5h.01M756.5 371.5h.01M757.5 368.5h.01M757.5 366.5h.01M757.5 362.5h.01M757.5 359.5h.01M757.5 356.5h.01M757.5 352.5h.01M757.5 350.5h.01M757.5 348.5h.01M758.5 348.5h.01M758.5 350.5h.01M758.5 352.5h.01M758.5 355.5h.01M758.5 358.5h.01M758.5 361.5h.01M758.5 364.5h.01M758.5 366.5h.01M759.5 368.5h.01M759.5 370.5h.01M759.5 371.5h.01M759.5 366.5h.01M759.5 363.5h.01M760.5 360.5h.01M760.5 356.5h.01M760.5 353.5h.01M760.5 350.5h.01M760.5 347.5h.01M760.5 346.5h.01M760.5 345.5h.01M761.5 349.5h.01M761.5 352.5h.01M761.5 356.5h.01M761.5 359.5h.01M761.5 362.5h.01M761.5 365.5h.01M761.5 367.5h.01M761.5 368.5h.01M762.5 369.5h.01M762.5 370.5h.01M762.5 368.5h.01M762.5 366.5h.01M762.5 364.5h.01M762.5 361.5h.01M762.5 358.5h.01M762.5 355.5h.01M763.5 351.5h.01M763.5 348.5h.01M763.5 346.5h.01M763.5 344.5h.01M763.5 343.5h.01M763.5 345.5h.01M764.5 354.5h.01M764.5 357.5h.01M764.5 361.5h.01M764.5 363.5h.01M764.5 366.5h.01M764.5 367.5h.01M764.5 368.5h.01M764.5 369.5h.01M765.5 367.5h.01M765.5 366.5h.01M765.5 363.5h.01M765.5 360.5h.01M765.5 357.5h.01M765.5 353.5h.01M765.5 350.5h.01M765.5 347.5h.01M766.5 344.5h.01M766.5 343.5h.01M766.5 342.5h.01M766.5 347.5h.01M766.5 350.5h.01M766.5 353.5h.01M766.5 357.5h.01M767.5 360.5h.01M767.5 363.5h.01M767.5 365.5h.01M767.5 367.5h.01M767.5 368.5h.01M767.5 366.5h.01M768.5 362.5h.01M768.5 360.5h.01M768.5 356.5h.01M768.5 353.5h.01M768.5 349.5h.01M768.5 346.5h.01M768.5 344.5h.01M768.5 342.5h.01M768.5 341.5h.01M769.5 342.5h.01M769.5 344.5h.01M769.5 346.5h.01M769.5 349.5h.01M769.5 352.5h.01M769.5 356.5h.01M769.5 359.5h.01M769.5 362.5h.01M770.5 364.5h.01M770.5 366.5h.01M770.5 367.5h.01M770.5 362.5h.01M770.5 359.5h.01M771.5 356.5h.01M771.5 352.5h.01M771.5 349.5h.01M771.5 346.5h.01M771.5 343.5h.01M771.5 342.5h.01M771.5 341.5h.01M772.5 345.5h.01M772.5 349.5h.01M772.5 352.5h.01M772.5 355.5h.01M772.5 359.5h.01M772.5 361.5h.01M772.5 364.5h.01M772.5 365.5h.01M772.5 366.5h.01M773.5 366.5h.01M773.5 365.5h.01M773.5 363.5h.01M773.5 361.5h.01M773.5 358.5h.01M773.5 355.5h.01M773.5 351.5h.01M774.5 348.5h.01M774.5 345.5h.01M774.5 343.5h.01M774.5 341.5h.01M774.5 340.5h.01M774.5 342.5h.01M775.5 351.5h.01M775.5 354.5h.01M775.5 357.5h.01M775.5 359.5h.01M775.5 362.5h.01M775.5 363.5h.01M775.5 364.5h.01M776.5 362.5h.01M776.5 361.5h.01M776.5 358.5h.01M776.5 355.5h.01M776.5 352.5h.01M776.5 349.5h.01M776.5 346.5h.01M776.5 342.5h.01M776.5 340.5h.01M777.5 338.5h.01M777.5 339.5h.01M777.5 341.5h.01M777.5 344.5h.01M777.5 347.5h.01M777.5 350.5h.01M778.5 353.5h.01M778.5 355.5h.01M778.5 357.5h.01M778.5 358.5h.01M778.5 359.5h.01M779.5 353.5h.01M779.5 350.5h.01M779.5 347.5h.01M779.5 343.5h.01M779.5 340.5h.01M779.5 336.5h.01M779.5 334.5h.01M779.5 332.5h.01M779.5 331.5h.01M780.5 332.5h.01M780.5 333.5h.01M780.5 335.5h.01M780.5 338.5h.01M780.5 341.5h.01M780.5 344.5h.01M780.5 347.5h.01M780.5 349.5h.01M780.5 351.5h.01M781.5 353.5h.01M781.5 354.5h.01M781.5 352.5h.01M781.5 350.5h.01M781.5 348.5h.01M781.5 345.5h.01M782.5 341.5h.01M782.5 338.5h.01M782.5 334.5h.01M782.5 331.5h.01M782.5 329.5h.01M782.5 327.5h.01M782.5 326.5h.01M782.5 328.5h.01M783.5 330.5h.01M783.5 333.5h.01M783.5 336.5h.01M783.5 340.5h.01M783.5 343.5h.01M783.5 345.5h.01M783.5 348.5h.01M783.5 349.5h.01M783.5 350.5h.01M784.5 350.5h.01M784.5 349.5h.01M784.5 347.5h.01M784.5 345.5h.01M784.5 342.5h.01M784.5 339.5h.01M784.5 335.5h.01M784.5 332.5h.01M785.5 328.5h.01M785.5 326.5h.01M785.5 324.5h.01M785.5 331.5h.01M785.5 334.5h.01M786.5 338.5h.01M786.5 341.5h.01M786.5 344.5h.01M786.5 346.5h.01M786.5 348.5h.01M786.5 349.5h.01M787.5 348.5h.01M787.5 346.5h.01M787.5 343.5h.01M787.5 341.5h.01M787.5 337.5h.01M787.5 334.5h.01M787.5 330.5h.01M787.5 327.5h.01M787.5 325.5h.01M788.5 323.5h.01M788.5 322.5h.01M788.5 324.5h.01M788.5 327.5h.01M788.5 330.5h.01M788.5 333.5h.01M788.5 337.5h.01M788.5 340.5h.01M789.5 343.5h.01M789.5 345.5h.01M789.5 346.5h.01M789.5 347.5h.01M789.5 348.5h.01M789.5 344.5h.01M789.5 342.5h.01M790.5 339.5h.01M790.5 336.5h.01M790.5 333.5h.01M790.5 329.5h.01M790.5 326.5h.01M790.5 324.5h.01M790.5 322.5h.01M790.5 321.5h.01M791.5 322.5h.01M791.5 324.5h.01M791.5 326.5h.01M791.5 329.5h.01M791.5 332.5h.01M791.5 336.5h.01M791.5 339.5h.01M791.5 342.5h.01M791.5 344.5h.01M792.5 346.5h.01M792.5 347.5h.01M792.5 344.5h.01M792.5 342.5h.01M792.5 339.5h.01M792.5 336.5h.01M793.5 332.5h.01M793.5 329.5h.01M793.5 326.5h.01M793.5 324.5h.01M793.5 322.5h.01M794.5 329.5h.01M794.5 333.5h.01M794.5 336.5h.01M794.5 339.5h.01M794.5 342.5h.01M794.5 344.5h.01M794.5 345.5h.01M794.5 346.5h.01M795.5 347.5h.01M795.5 346.5h.01M795.5 345.5h.01M795.5 344.5h.01M795.5 342.5h.01M795.5 339.5h.01M795.5 336.5h.01M795.5 333.5h.01M795.5 330.5h.01M796.5 327.5h.01M796.5 325.5h.01M796.5 323.5h.01M796.5 330.5h.01M796.5 333.5h.01M797.5 336.5h.01M797.5 339.5h.01M797.5 342.5h.01M797.5 344.5h.01M797.5 345.5h.01M797.5 346.5h.01M798.5 343.5h.01M798.5 341.5h.01M798.5 338.5h.01M798.5 335.5h.01M798.5 332.5h.01M798.5 329.5h.01M798.5 326.5h.01M798.5 324.5h.01M799.5 322.5h.01M799.5 321.5h.01M799.5 323.5h.01M799.5 325.5h.01M799.5 328.5h.01M799.5 331.5h.01M799.5 334.5h.01M799.5 337.5h.01M800.5 340.5h.01M800.5 342.5h.01M800.5 343.5h.01M800.5 344.5h.01M800.5 341.5h.01M800.5 338.5h.01M801.5 335.5h.01M801.5 332.5h.01M801.5 328.5h.01M801.5 325.5h.01M801.5 322.5h.01M801.5 319.5h.01M801.5 317.5h.01M801.5 316.5h.01M802.5 318.5h.01M802.5 320.5h.01M802.5 323.5h.01M802.5 326.5h.01M802.5 330.5h.01M802.5 333.5h.01M802.5 335.5h.01M802.5 337.5h.01M803.5 339.5h.01M803.5 340.5h.01M803.5 338.5h.01M803.5 336.5h.01M803.5 333.5h.01M803.5 330.5h.01M803.5 327.5h.01M804.5 323.5h.01M804.5 320.5h.01M804.5 317.5h.01M804.5 314.5h.01M804.5 312.5h.01M804.5 313.5h.01M804.5 315.5h.01M805.5 318.5h.01M805.5 321.5h.01M805.5 324.5h.01M805.5 327.5h.01M805.5 330.5h.01M805.5 332.5h.01M805.5 333.5h.01M805.5 334.5h.01M806.5 333.5h.01M806.5 332.5h.01M806.5 331.5h.01M806.5 329.5h.01M806.5 326.5h.01M806.5 323.5h.01M806.5 319.5h.01M806.5 316.5h.01M807.5 313.5h.01M807.5 311.5h.01M807.5 309.5h.01M807.5 316.5h.01M807.5 319.5h.01M808.5 322.5h.01M808.5 326.5h.01M808.5 328.5h.01M808.5 331.5h.01M808.5 332.5h.01M808.5 333.5h.01M808.5 334.5h.01M809.5 331.5h.01M809.5 329.5h.01M809.5 326.5h.01M809.5 323.5h.01M809.5 319.5h.01M809.5 316.5h.01M809.5 313.5h.01M809.5 310.5h.01M809.5 309.5h.01M810.5 308.5h.01M810.5 309.5h.01M810.5 310.5h.01M810.5 313.5h.01M810.5 316.5h.01M810.5 320.5h.01M810.5 323.5h.01M810.5 327.5h.01M811.5 330.5h.01M811.5 332.5h.01M811.5 334.5h.01M811.5 335.5h.01M811.5 329.5h.01M812.5 326.5h.01M812.5 323.5h.01M812.5 319.5h.01M812.5 315.5h.01M812.5 312.5h.01M812.5 310.5h.01M812.5 308.5h.01M812.5 307.5h.01M813.5 310.5h.01M813.5 312.5h.01" fill="none" stroke="#1f77b4" stroke-width="5.7" stroke-linecap="round"/>
<path class="ax" d="M108.5 438.5V443.5M222.5 438.5V443.5M336.5 438.5V443.5M451.5 438.5V443.5M565.5 438.5V443.5M679.5 438.5V443.5M793.5 438.5V443.5M73.5 417.5H68.5M73.5 373.5H68.5M73.5 329.5H68.5M73.5 286.5H68.5M73.5 242.5H68.5M73.5 198.5H68.5M73.5 155.5H68.5M73.5 111.5H68.5M73.5 68.5H68.5"/>
<rect class="ax" x="73.5" y="53.5" width="775" height="385"/>
<text class="tk" x="105.1" y="459">0</text>
<text class="tk" x="205.01 212.82 221.4 230.23" y="459">1000</text>
<text class="tk" x="318.91 327.73 336.55 345.13" y="459">2000</text>
<text class="tk" x="433.07 440.63 449.46 458.28" y="459">3000</text>
<text class="tk" x="547.97 555.78 564.61 573.19" y="459">4000</text>
<text class="tk" x="662.12 669.68 678.51 687.34" y="459">5000</text>
<text class="tk" x="776.02 784.83 793.41 802.24" y="459">6000</text>
<text class="tk" x="29.98 40.6 49.18 53.84" y="423">−0.6</text>
<text class="tk" x="29.98 40.6 49.18 53.84" y="379">−0.4</text>
<text class="tk" x="29.98 40.6 49.18 53.84" y="335">−0.2</text>
<text class="tk" x="42.1 49.66 54.09" y="292">0.0</text>
<text class="tk" x="42.1 49.66 54.09" y="248">0.2</text>
<text class="tk" x="42.1 49.66 54.09" y="204">0.4</text>
<text class="tk" x="42.1 49.66 54.34" y="161">0.6</text>
<text class="tk" x="42.1 49.66 54.34" y="117">0.8</text>
<text class="tk" x="42.1 49.66 54.34" y="73">1.0</text>
<text class="tk" x="423.96 431.68 440.43 449.24 453.65 458.07 466.85 475.35 483.9 489.85" y="478">Lag, hours</text>
<text class="tk" x="-0.75 8.73 17.53 22.97 31.45 38.83 47.58 53.28 58.44 66.97 70.83 79.58 85.27 88.88 97.36 106.16 110.56 114.98" y="0" transform="translate(20 308.2) rotate(-90)">Autocorrelation, R</text>
<text class="tt" x="265.03 276.17 286.97 293.25 303.45 312.61 322.8 329.6 335.83 346.33 350.7 360.91 367.44 372.08 382.27 392.81 397.86 407.72 417.97 425.06 433.5 444.3 452.99 458.02 467.3 477.52 488.08 493.13 498.99 509.19 516.03 521.33 532.72 537.6 544.44 549.74 556.83 567.08 583.55 593.88 604.38 610.97 621.17 627.45 638.27 644.5" y="0" transform="translate(0 24) scale(1 1.09)">Autocorrelation versus Lag for Air Temperature</text>
<text class="tt" x="288.92 299.13 305.66 310.7 319.69 330.13 336.36 346.86 355.53 362.06 372.63 377 381.63 386.25 391.55 402.38 412.56 422.52 433.1 438.14 444.14 449.44 460.86 471.11 481.33 490.49 496.7 506.91 512.72 519.25 524.3 535.67 545.89 562.36 572.69 583.25 589.74 599.67 610.49 620.8" y="0" transform="translate(0 45) scale(1 1.09)">at Foresthill Road - Beacroft Campground</text>
</svg>
</body>
</html>
